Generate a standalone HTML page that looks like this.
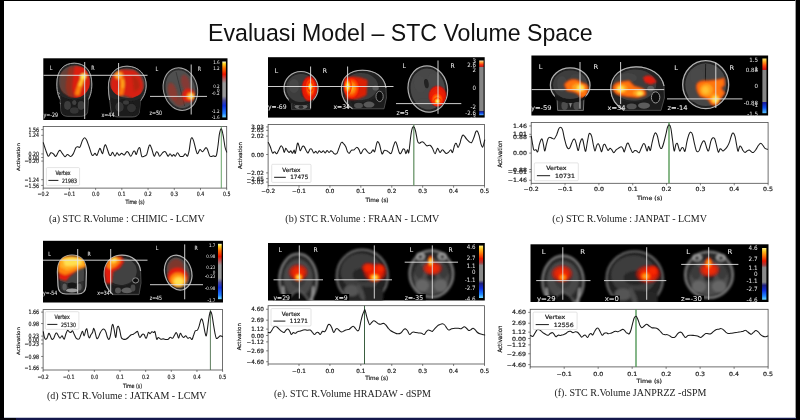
<!DOCTYPE html>
<html><head><meta charset="utf-8"><title>Evaluasi Model – STC Volume Space</title>
<style>html,body{margin:0;padding:0;background:#fff;overflow:hidden}body{width:800px;height:420px;position:relative}svg{position:absolute;left:0;top:0;display:block}</style>
</head><body>
<svg width="800" height="420" viewBox="0 0 800 420" font-family="'DejaVu Sans','Liberation Sans',sans-serif">
<defs>
<filter id="f03" x="-5%" y="-5%" width="110%" height="110%"><feGaussianBlur stdDeviation="0.35"/></filter>
<filter id="f05" x="-10%" y="-10%" width="120%" height="120%"><feGaussianBlur stdDeviation="0.55"/></filter>
<filter id="f1" x="-20%" y="-20%" width="140%" height="140%"><feGaussianBlur stdDeviation="1"/></filter>
<filter id="f15" x="-30%" y="-30%" width="160%" height="160%"><feGaussianBlur stdDeviation="1.5"/></filter>
<filter id="f2" x="-40%" y="-40%" width="180%" height="180%"><feGaussianBlur stdDeviation="2.2"/></filter>
<radialGradient id="hot"><stop offset="0" stop-color="#ffff9a"/><stop offset="0.28" stop-color="#ffd628"/><stop offset="0.52" stop-color="#ff8208"/><stop offset="0.78" stop-color="#ff2a00" stop-opacity="0.92"/><stop offset="1" stop-color="#ee0000" stop-opacity="0"/></radialGradient>
<radialGradient id="org"><stop offset="0" stop-color="#ffc020"/><stop offset="0.45" stop-color="#ff7a08"/><stop offset="0.8" stop-color="#ff3000" stop-opacity="0.85"/><stop offset="1" stop-color="#ee0000" stop-opacity="0"/></radialGradient>
<radialGradient id="red"><stop offset="0" stop-color="#ff2a00" stop-opacity="0.97"/><stop offset="0.78" stop-color="#ee1600" stop-opacity="0.92"/><stop offset="1" stop-color="#cc0000" stop-opacity="0"/></radialGradient>
<radialGradient id="sred"><stop offset="0" stop-color="#ff3000" stop-opacity="0.97"/><stop offset="0.55" stop-color="#f42000" stop-opacity="0.9"/><stop offset="0.85" stop-color="#e01400" stop-opacity="0.5"/><stop offset="1" stop-color="#cc0000" stop-opacity="0"/></radialGradient>
<radialGradient id="dred"><stop offset="0" stop-color="#c82a18" stop-opacity="0.75"/><stop offset="0.7" stop-color="#b02414" stop-opacity="0.55"/><stop offset="1" stop-color="#901810" stop-opacity="0"/></radialGradient>
<radialGradient id="tmpl"><stop offset="0" stop-color="#5e5e5e"/><stop offset="0.6" stop-color="#4a4a4a"/><stop offset="0.85" stop-color="#6e6e6e"/><stop offset="1" stop-color="#2a2a2a" stop-opacity="0"/></radialGradient>
<linearGradient id="cbA" x1="0" y1="0" x2="0" y2="1"><stop offset="0" stop-color="#fffbd0"/><stop offset="0.04" stop-color="#ffd820"/><stop offset="0.12" stop-color="#ff7000"/><stop offset="0.23" stop-color="#ee1400"/><stop offset="0.31" stop-color="#b85a5a"/><stop offset="0.39" stop-color="#9a9a9a"/><stop offset="0.62" stop-color="#9a9a9a"/><stop offset="0.70" stop-color="#4a4a9c"/><stop offset="0.79" stop-color="#1030e0"/><stop offset="0.93" stop-color="#2080ff"/><stop offset="1" stop-color="#70d8ff"/></linearGradient>
<linearGradient id="cbB" x1="0" y1="0" x2="0" y2="1"><stop offset="0" stop-color="#ffe6b0"/><stop offset="0.035" stop-color="#ff9a30"/><stop offset="0.075" stop-color="#ff3410"/><stop offset="0.11" stop-color="#c42020"/><stop offset="0.125" stop-color="#868686"/><stop offset="0.915" stop-color="#868686"/><stop offset="0.93" stop-color="#202088"/><stop offset="0.965" stop-color="#1048e8"/><stop offset="1" stop-color="#58b8ff"/></linearGradient>
<linearGradient id="cbC" x1="0" y1="0" x2="0" y2="1"><stop offset="0" stop-color="#ffe870"/><stop offset="0.06" stop-color="#ffa820"/><stop offset="0.13" stop-color="#ff4810"/><stop offset="0.2" stop-color="#d01414"/><stop offset="0.215" stop-color="#868686"/><stop offset="0.79" stop-color="#868686"/><stop offset="0.805" stop-color="#1818a0"/><stop offset="0.9" stop-color="#1050f0"/><stop offset="1" stop-color="#58c4ff"/></linearGradient>
<linearGradient id="cbE" x1="0" y1="0" x2="0" y2="1"><stop offset="0" stop-color="#fff090"/><stop offset="0.06" stop-color="#ffc820"/><stop offset="0.15" stop-color="#ff7808"/><stop offset="0.25" stop-color="#ee1800"/><stop offset="0.33" stop-color="#a44040"/><stop offset="0.38" stop-color="#8a8a8a"/><stop offset="0.66" stop-color="#8a8a8a"/><stop offset="0.72" stop-color="#20207a"/><stop offset="0.82" stop-color="#1030e0"/><stop offset="0.93" stop-color="#2088ff"/><stop offset="1" stop-color="#70dcff"/></linearGradient>
</defs>
<rect x="0" y="0" width="800" height="420" fill="#fff"/>
<text x="208.1" y="41.0" font-family="'Liberation Sans',Arial,sans-serif" font-size="23.15" fill="#111">Evaluasi Model – STC Volume Space</text>
<g>
<rect x="43.3" y="58.3" width="184.2" height="61.7" fill="#000"/>
<clipPath id="cp1"><rect x="43.3" y="58.3" width="184.2" height="61.7"/></clipPath>
<g clip-path="url(#cp1)">
<g filter="url(#f05)">
<path d="M56.8,84 C56.8,70 64,63.2 74.2,63.2 C84.6,63.2 91.8,70 91.8,84 C91.8,92 90,96.5 88.4,99.5 L87.6,111.5 Q86.8,116.4 80.5,116.4 L68,116.4 Q61.8,116.4 61,111.5 L60.2,99.5 C58.6,96.5 56.8,92 56.8,84 Z" fill="#262626" stroke="#5c5c5c" stroke-width="0.80"/>
<path d="M60.2,99.5 C58.6,96.5 56.8,92 56.8,84 C56.8,70 64,63.2 74.2,63.2 C84.6,63.2 91.8,70 91.8,84 C91.8,92 90,96.5 88.4,99.5" fill="none" stroke="#a6a6a6" stroke-width="0.95"/>
<ellipse cx="74.3" cy="81.2" rx="15.3" ry="15.8" fill="#474747" />
<path d="M60.5,96 Q74.3,103.5 88,96 L87.4,111 Q86.6,115.4 80.5,115.4 L68,115.4 Q62,115.4 61.4,111 Z" fill="#1a1a1a"/>
<ellipse cx="67.5" cy="105.5" rx="3.4" ry="4.4" fill="#3c3c3c" />
<ellipse cx="81.0" cy="105.5" rx="3.4" ry="4.4" fill="#3c3c3c" />
<ellipse cx="74.3" cy="110.5" rx="4.4" ry="3.2" fill="#343434" />
<ellipse cx="74.3" cy="102.5" rx="2.2" ry="2.6" fill="#404040" />
<path d="M58.2,92.5 l1.8,1.2 M58.6,96 l1.6,1 M59.6,103 l1.2,0.8" fill="none" stroke="#9a9a9a" stroke-width="0.70"/>
<path d="M108.4,88 C107.8,74 116,66.2 127,66.2 C139,66.2 146.6,75 146.2,86 C145.8,94 142.4,98 140.4,101 L139.4,112 Q138.4,117 132,117 L118,117 Q111.4,117 110.8,110 L109.6,100 C108.8,96 108.5,92 108.4,88 Z" fill="#262626" stroke="#5c5c5c" stroke-width="0.80"/>
<path d="M109.6,100 C108.8,96 108.5,92 108.4,88 C107.8,74 116,66.2 127,66.2 C139,66.2 146.6,75 146.2,86 C145.8,94 142.4,98 140.4,101" fill="none" stroke="#a6a6a6" stroke-width="0.95"/>
<ellipse cx="127.4" cy="83.2" rx="17.2" ry="14.8" fill="#474747" transform="rotate(8.0 127.4 83.2)" />
<path d="M110.4,97 Q116,101 124,99 Q132,104 140.6,98 L139.4,111.5 Q138.4,116 132,116 L118,116 Q112.2,116 111.6,110 Z" fill="#1a1a1a"/>
<ellipse cx="119.5" cy="107.0" rx="4.2" ry="5.0" fill="#363636" />
<ellipse cx="131.5" cy="108.0" rx="4.6" ry="4.2" fill="#303030" />
<ellipse cx="126.0" cy="102.5" rx="3.0" ry="2.2" fill="#3a3a3a" />
<ellipse cx="180.4" cy="89.1" rx="17.0" ry="21.6" fill="#2a2a2a" stroke="#a6a6a6" stroke-width="1.00" transform="rotate(-14.0 180.4 89.1)" />
<ellipse cx="180.4" cy="89.1" rx="14.6" ry="19.2" fill="#505050" transform="rotate(-14.0 180.4 89.1)" />
<path d="M176,72 L184.6,106" fill="none" stroke="#343434" stroke-width="0.90"/>
</g>
<clipPath id="cp2"><ellipse cx="74.3" cy="81.4" rx="15.9" ry="16.6" fill="#fff" /></clipPath>
<g clip-path="url(#cp2)" filter="url(#f1)">
<path d="M60,72 L72,66 L72,98 L60,94 Z" fill="#a03424" opacity="0.34"/>
<path d="M69,67 L78,66 L78,98.5 L70,98 Q64.5,92 66,82 Q67.4,74 69,67 Z" fill="#b82414" opacity="0.62"/>
<path d="M74.6,66 L86,66.5 Q91,75 90.4,87 L86.5,97.5 L75,98.5 Q71.4,92 72.6,82 Q73.4,74 74.6,66 Z" fill="#e21c08" opacity="0.95"/>
<path d="M84.2,75.6 Q79.5,84 77,95" fill="none" stroke="#ff8a10" stroke-width="4.40" opacity="0.95"/>
<path d="M84.6,75 Q81.5,80 79.8,86" fill="none" stroke="#ffc830" stroke-width="3.00"/>
<ellipse cx="83.2" cy="76.2" rx="3.0" ry="2.4" fill="#ffee60" transform="rotate(-35.0 83.2 76.2)" />
</g>
<clipPath id="cp3"><ellipse cx="127.4" cy="83.2" rx="17.6" ry="15.2" fill="#fff" transform="rotate(8.0 127.4 83.2)" /></clipPath>
<g clip-path="url(#cp3)" filter="url(#f1)">
<path d="M110.5,82 Q112,72 121,69.5 L134,70 Q143.5,76 143.5,87 L141,96 L133,98.5 L124,95.5 L114,98 L110.5,92 Z" fill="#e21c08" opacity="0.93"/>
<path d="M132,74 Q140,78 140,88 L134,92 Z" fill="#8a2a1c" opacity="0.45"/>
<path d="M121.5,78 Q123.5,86 120.5,95" fill="none" stroke="#ff7a10" stroke-width="4.60" opacity="0.95"/>
<path d="M122.6,79.5 Q123.6,84 122.6,88" fill="none" stroke="#ffb020" stroke-width="2.40" opacity="0.90"/>
<ellipse cx="118.8" cy="75.4" rx="2.8" ry="2.6" fill="#ffe860" />
<ellipse cx="118.8" cy="75.4" rx="4.6" ry="4.2" fill="#ff9a18" opacity="0.70" />
</g>
<clipPath id="cp4"><ellipse cx="180.4" cy="89.1" rx="15.4" ry="20.0" fill="#fff" transform="rotate(-14.0 180.4 89.1)" /></clipPath>
<g clip-path="url(#cp4)" filter="url(#f1)">
<ellipse cx="172.5" cy="92.0" rx="4.4" ry="9.5" fill="#b02c1c" transform="rotate(-14.0 172.5 92.0)" opacity="0.60" />
<ellipse cx="185.5" cy="83.0" rx="4.2" ry="8.5" fill="#b02c1c" transform="rotate(-14.0 185.5 83.0)" opacity="0.55" />
<ellipse cx="180.0" cy="101.0" rx="6.0" ry="5.0" fill="#a82a1a" opacity="0.50" />
<ellipse cx="188.6" cy="95.4" rx="6.6" ry="6.8" fill="#e41c08" opacity="0.95" />
<ellipse cx="190.6" cy="96.2" rx="3.6" ry="3.4" fill="#ff9a18" />
<ellipse cx="191.2" cy="96.3" rx="2.2" ry="2.1" fill="#ffee60" />
</g>
<line x1="43.3" y1="75.3" x2="147.5" y2="75.3" stroke="#e4e4e4" stroke-width="0.90"/>
<line x1="84.7" y1="62.0" x2="84.7" y2="119.0" stroke="#e4e4e4" stroke-width="0.90"/>
<line x1="118.6" y1="63.0" x2="118.6" y2="116.0" stroke="#e4e4e4" stroke-width="0.90"/>
<line x1="150.0" y1="96.4" x2="207.0" y2="96.4" stroke="#e4e4e4" stroke-width="0.90"/>
<line x1="191.2" y1="64.5" x2="191.2" y2="114.5" stroke="#e4e4e4" stroke-width="0.90"/>
<text transform="translate(49.80,70.00) scale(0.800,1)" font-size="6.00" text-anchor="start" fill="#ececec" stroke="#ececec" stroke-width="0.05" font-weight="normal" >L</text>
<text transform="translate(91.30,70.00) scale(0.800,1)" font-size="6.00" text-anchor="start" fill="#ececec" stroke="#ececec" stroke-width="0.05" font-weight="normal" >R</text>
<text transform="translate(155.50,70.70) scale(0.800,1)" font-size="6.00" text-anchor="start" fill="#ececec" stroke="#ececec" stroke-width="0.05" font-weight="normal" >L</text>
<text transform="translate(197.80,70.70) scale(0.800,1)" font-size="6.00" text-anchor="start" fill="#ececec" stroke="#ececec" stroke-width="0.05" font-weight="normal" >R</text>
<text transform="translate(43.40,116.80) scale(0.800,1)" font-size="6.00" text-anchor="start" fill="#ececec" stroke="#ececec" stroke-width="0.05" font-weight="normal" >y=-29</text>
<text transform="translate(101.50,116.80) scale(0.800,1)" font-size="6.00" text-anchor="start" fill="#ececec" stroke="#ececec" stroke-width="0.05" font-weight="normal" >x=44</text>
<text transform="translate(149.50,115.30) scale(0.800,1)" font-size="6.00" text-anchor="start" fill="#ececec" stroke="#ececec" stroke-width="0.05" font-weight="normal" >z=50</text>
<rect x="222.3" y="61.5" width="3.6" height="55.9" fill="url(#cbA)"/>
<text transform="translate(219.60,64.23) scale(0.850,1)" font-size="4.80" text-anchor="end" fill="#dcdcdc" stroke="#dcdcdc" stroke-width="0.05" font-weight="normal" >1.6</text>
<text transform="translate(219.60,70.03) scale(0.850,1)" font-size="4.80" text-anchor="end" fill="#dcdcdc" stroke="#dcdcdc" stroke-width="0.05" font-weight="normal" >1.2</text>
<text transform="translate(219.60,88.23) scale(0.850,1)" font-size="4.80" text-anchor="end" fill="#dcdcdc" stroke="#dcdcdc" stroke-width="0.05" font-weight="normal" >0.2</text>
<text transform="translate(219.60,91.93) scale(0.850,1)" font-size="4.80" text-anchor="end" fill="#dcdcdc" stroke="#dcdcdc" stroke-width="0.05" font-weight="normal" >0</text>
<text transform="translate(219.60,95.43) scale(0.850,1)" font-size="4.80" text-anchor="end" fill="#dcdcdc" stroke="#dcdcdc" stroke-width="0.05" font-weight="normal" >-0.2</text>
<text transform="translate(219.60,112.93) scale(0.850,1)" font-size="4.80" text-anchor="end" fill="#dcdcdc" stroke="#dcdcdc" stroke-width="0.05" font-weight="normal" >-1.2</text>
<text transform="translate(219.60,119.33) scale(0.850,1)" font-size="4.80" text-anchor="end" fill="#dcdcdc" stroke="#dcdcdc" stroke-width="0.05" font-weight="normal" >-1.6</text>
</g>
<rect x="43.2" y="126.4" width="183.5" height="61.7" fill="#fff" stroke="#4c4c4c" stroke-width="0.8"/>
<line x1="221.3" y1="126.4" x2="221.3" y2="188.1" stroke="#62a062" stroke-width="0.95"/>
<line x1="41.2" y1="129.58" x2="43.2" y2="129.58" stroke="#333" stroke-width="0.6"/>
<text transform="translate(39.00,131.70) scale(0.800,1)" font-size="5.90" text-anchor="end" fill="#222" stroke="#222" stroke-width="0.2" font-weight="normal" >1.56</text>
<line x1="41.2" y1="135.30" x2="43.2" y2="135.30" stroke="#333" stroke-width="0.6"/>
<text transform="translate(39.00,137.43) scale(0.800,1)" font-size="5.90" text-anchor="end" fill="#222" stroke="#222" stroke-width="0.2" font-weight="normal" >1.24</text>
<line x1="41.2" y1="153.92" x2="43.2" y2="153.92" stroke="#333" stroke-width="0.6"/>
<text transform="translate(39.00,156.04) scale(0.800,1)" font-size="5.90" text-anchor="end" fill="#222" stroke="#222" stroke-width="0.2" font-weight="normal" >0.20</text>
<line x1="41.2" y1="157.50" x2="43.2" y2="157.50" stroke="#333" stroke-width="0.6"/>
<text transform="translate(39.00,159.62) scale(0.800,1)" font-size="5.90" text-anchor="end" fill="#222" stroke="#222" stroke-width="0.2" font-weight="normal" >0.00</text>
<line x1="41.2" y1="161.08" x2="43.2" y2="161.08" stroke="#333" stroke-width="0.6"/>
<text transform="translate(39.00,163.20) scale(0.800,1)" font-size="5.90" text-anchor="end" fill="#222" stroke="#222" stroke-width="0.2" font-weight="normal" >−0.20</text>
<line x1="41.2" y1="179.70" x2="43.2" y2="179.70" stroke="#333" stroke-width="0.6"/>
<text transform="translate(39.00,181.82) scale(0.800,1)" font-size="5.90" text-anchor="end" fill="#222" stroke="#222" stroke-width="0.2" font-weight="normal" >−1.24</text>
<line x1="41.2" y1="185.42" x2="43.2" y2="185.42" stroke="#333" stroke-width="0.6"/>
<text transform="translate(39.00,187.55) scale(0.800,1)" font-size="5.90" text-anchor="end" fill="#222" stroke="#222" stroke-width="0.2" font-weight="normal" >−1.56</text>
<line x1="43.20" y1="188.1" x2="43.20" y2="190.1" stroke="#333" stroke-width="0.6"/>
<text transform="translate(43.20,196.30) scale(0.800,1)" font-size="5.90" text-anchor="middle" fill="#222" stroke="#222" stroke-width="0.2" font-weight="normal" >−0.2</text>
<line x1="69.41" y1="188.1" x2="69.41" y2="190.1" stroke="#333" stroke-width="0.6"/>
<text transform="translate(69.41,196.30) scale(0.800,1)" font-size="5.90" text-anchor="middle" fill="#222" stroke="#222" stroke-width="0.2" font-weight="normal" >−0.1</text>
<line x1="95.63" y1="188.1" x2="95.63" y2="190.1" stroke="#333" stroke-width="0.6"/>
<text transform="translate(95.63,196.30) scale(0.800,1)" font-size="5.90" text-anchor="middle" fill="#222" stroke="#222" stroke-width="0.2" font-weight="normal" >0.0</text>
<line x1="121.84" y1="188.1" x2="121.84" y2="190.1" stroke="#333" stroke-width="0.6"/>
<text transform="translate(121.84,196.30) scale(0.800,1)" font-size="5.90" text-anchor="middle" fill="#222" stroke="#222" stroke-width="0.2" font-weight="normal" >0.1</text>
<line x1="148.06" y1="188.1" x2="148.06" y2="190.1" stroke="#333" stroke-width="0.6"/>
<text transform="translate(148.06,196.30) scale(0.800,1)" font-size="5.90" text-anchor="middle" fill="#222" stroke="#222" stroke-width="0.2" font-weight="normal" >0.2</text>
<line x1="174.27" y1="188.1" x2="174.27" y2="190.1" stroke="#333" stroke-width="0.6"/>
<text transform="translate(174.27,196.30) scale(0.800,1)" font-size="5.90" text-anchor="middle" fill="#222" stroke="#222" stroke-width="0.2" font-weight="normal" >0.3</text>
<line x1="200.49" y1="188.1" x2="200.49" y2="190.1" stroke="#333" stroke-width="0.6"/>
<text transform="translate(200.49,196.30) scale(0.800,1)" font-size="5.90" text-anchor="middle" fill="#222" stroke="#222" stroke-width="0.2" font-weight="normal" >0.4</text>
<line x1="226.70" y1="188.1" x2="226.70" y2="190.1" stroke="#333" stroke-width="0.6"/>
<text transform="translate(226.70,196.30) scale(0.800,1)" font-size="5.90" text-anchor="middle" fill="#222" stroke="#222" stroke-width="0.2" font-weight="normal" >0.5</text>
<text transform="translate(135.00,203.60) scale(0.800,1)" font-size="5.90" text-anchor="middle" fill="#222" stroke="#222" stroke-width="0.2" font-weight="normal" >Time (s)</text>
<text transform="translate(19.5,157.0) rotate(-90) scale(1,0.800)" font-size="5.61" text-anchor="middle" fill="#222" stroke="#222" stroke-width="0.2">Activation</text>
<path d="M43.3,142.8C43.8,144.1 45.0,148.1 45.8,150.3C46.7,152.6 47.5,155.8 48.3,156.2C49.2,156.6 50.0,153.2 50.8,152.8C51.7,152.4 52.5,153.1 53.3,153.7C54.2,154.3 55.0,156.8 55.8,156.5C56.7,156.2 57.6,153.0 58.3,152.0C59.0,151.0 59.3,150.1 60.0,150.3C60.7,150.6 61.7,152.6 62.5,153.7C63.3,154.7 64.2,156.5 65.0,156.7C65.8,156.8 66.5,154.5 67.5,154.5C68.5,154.5 69.9,156.6 70.8,156.5C71.8,156.4 72.5,155.1 73.3,153.7C74.2,152.2 75.1,149.0 75.8,147.8C76.5,146.7 76.8,146.8 77.5,146.7C78.2,146.5 79.2,148.1 80.0,147.0C80.8,145.9 81.7,141.9 82.5,140.3C83.3,138.8 84.0,137.8 84.7,137.8C85.4,137.8 85.9,138.8 86.7,140.3C87.4,141.9 88.3,144.6 89.2,147.0C90.0,149.4 91.0,153.1 91.7,154.5C92.4,155.9 92.8,155.5 93.3,155.3C93.9,155.1 94.4,153.3 95.0,153.3C95.6,153.3 96.3,156.0 97.0,155.3C97.7,154.7 98.6,150.6 99.2,149.5C99.7,148.4 99.8,148.0 100.3,148.7C100.9,149.4 101.9,153.9 102.5,153.7C103.1,153.4 103.7,148.5 104.2,147.0C104.7,145.5 105.0,144.6 105.5,144.8C106.0,145.1 106.6,147.1 107.2,148.7C107.8,150.3 108.6,153.4 109.2,154.5C109.8,155.6 110.3,155.7 110.8,155.3C111.4,155.0 111.8,152.2 112.5,152.3C113.2,152.5 114.2,156.1 115.0,156.2C115.8,156.2 116.3,153.0 117.0,152.8C117.7,152.7 118.4,155.2 119.2,155.3C119.9,155.4 120.8,153.4 121.7,153.3C122.5,153.3 123.3,155.3 124.2,155.0C125.0,154.7 126.0,152.1 126.7,151.7C127.4,151.2 127.6,151.6 128.3,152.3C129.0,153.1 130.0,156.3 130.8,156.2C131.7,156.1 132.7,152.5 133.3,151.7C134.0,150.8 134.2,150.7 134.7,151.2C135.2,151.6 135.7,154.9 136.3,154.5C136.9,154.1 137.7,149.7 138.3,148.7C138.9,147.6 139.4,147.1 140.0,148.3C140.6,149.6 141.0,154.9 141.7,156.2C142.4,157.5 143.3,156.4 144.2,156.2C145.0,155.9 145.9,156.0 146.7,154.5C147.4,153.0 148.1,148.6 148.7,147.0C149.2,145.4 149.5,144.7 150.0,145.0C150.5,145.3 151.0,146.8 151.7,148.7C152.4,150.5 153.4,155.6 154.2,156.2C154.9,156.7 155.7,152.6 156.3,152.0C157.0,151.4 157.4,152.1 158.0,152.8C158.6,153.5 158.9,156.2 159.7,156.2C160.4,156.2 161.6,153.6 162.5,152.8C163.4,152.1 164.4,151.1 165.3,151.7C166.2,152.2 167.2,155.8 168.0,156.2C168.8,156.5 169.3,153.7 170.0,153.7C170.7,153.7 171.4,156.0 172.0,156.2C172.6,156.3 173.1,154.5 173.7,154.5C174.2,154.5 174.7,156.4 175.3,156.2C176.0,155.9 176.7,152.8 177.5,152.8C178.3,152.8 179.0,155.6 180.0,156.2C181.0,156.7 182.4,156.6 183.3,156.2C184.2,155.8 184.6,153.7 185.3,153.7C186.0,153.7 186.9,156.7 187.5,156.2C188.1,155.6 188.6,153.1 189.2,150.3C189.7,147.6 190.3,141.6 190.8,139.5C191.3,137.4 191.7,137.6 192.2,137.8C192.6,138.1 193.1,139.2 193.7,141.2C194.3,143.1 195.2,147.4 195.8,149.5C196.5,151.6 196.8,153.7 197.5,153.7C198.2,153.7 199.2,149.8 200.0,149.5C200.8,149.2 201.5,151.9 202.5,151.7C203.5,151.4 205.0,148.2 205.8,147.8C206.7,147.5 206.8,148.1 207.5,149.5C208.2,150.9 209.0,155.1 210.0,156.2C211.0,157.2 212.3,155.9 213.3,155.8C214.4,155.8 215.4,157.3 216.2,155.8C216.9,154.4 217.3,150.7 217.8,147.0C218.4,143.3 218.9,136.7 219.5,133.7C220.1,130.6 220.6,128.7 221.2,128.7C221.7,128.7 222.2,130.6 222.8,133.7C223.5,136.7 224.4,143.9 225.0,147.0C225.6,150.1 226.4,151.2 226.7,152.0" fill="none" stroke="#1a1a1a" stroke-width="1.05" stroke-linejoin="round" stroke-linecap="round"/>
<rect x="46.4" y="167.6" width="33.2" height="17.8" rx="1" fill="#fff" fill-opacity="0.8" stroke="#d2d2d2" stroke-width="0.6"/>
<text transform="translate(63.00,174.72) scale(0.800,1)" font-size="5.90" text-anchor="middle" fill="#222" stroke="#222" stroke-width="0.2" font-weight="normal" >Vertex</text>
<line x1="48.4" y1="180.4" x2="58.4" y2="180.4" stroke="#1a1a1a" stroke-width="1"/>
<text transform="translate(62.00,182.54) scale(0.800,1)" font-size="5.90" text-anchor="start" fill="#222" stroke="#222" stroke-width="0.2" font-weight="normal" >21983</text>
<text x="49.0" y="221.5" font-family="'Liberation Serif','Times New Roman',serif" font-size="10" fill="#1a1a1a">(a) STC R.Volume : CHIMIC - LCMV</text>
</g>
<g>
<rect x="268.0" y="57.2" width="216.7" height="60.4" fill="#000"/>
<clipPath id="cp5"><rect x="268.0" y="57.2" width="216.7" height="60.4"/></clipPath>
<g clip-path="url(#cp5)">
<g filter="url(#f05)">
<path d="M291,101 L291.6,109.6 L310.4,109.6 L311,101 Z" fill="#262626" stroke="#5c5c5c" stroke-width="0.60"/>
<ellipse cx="301.0" cy="106.6" rx="6.4" ry="2.6" fill="#6a6a6a" />
<ellipse cx="301.0" cy="107.2" rx="2.4" ry="1.6" fill="#2a2a2a" />
<ellipse cx="301.0" cy="88.3" rx="17.0" ry="16.8" fill="#222" stroke="#b0b0b0" stroke-width="1.20" />
<ellipse cx="301.0" cy="88.0" rx="14.6" ry="14.0" fill="#3e3e3e" />
<ellipse cx="294.0" cy="86.0" rx="5.0" ry="7.0" fill="#484848" opacity="0.80" />
<ellipse cx="305.0" cy="93.0" rx="5.0" ry="5.0" fill="#343434" opacity="0.80" />
<path d="M288.5,98.5 Q301,106.5 313.5,98.5 L312.6,102.6 Q301,109 289.4,102.6 Z" fill="#1c1c1c"/>
<path d="M341.4,90 C340.8,77.4 350,70.2 362.4,70.2 C375.4,70.2 384.6,77 386,88 L386.4,98 L384,108.8 L352.5,108.8 C346,104.6 341.8,98.4 341.4,90 Z" fill="#222" stroke="#555" stroke-width="0.80"/>
<path d="M352.5,108.8 C346,104.6 341.8,98.4 341.4,90 C340.8,77.4 350,70.2 362.4,70.2 C375.4,70.2 384.6,77 386,88" fill="none" stroke="#b0b0b0" stroke-width="1.10"/>
<ellipse cx="360.5" cy="86.6" rx="17.6" ry="13.6" fill="#3c3c3c" transform="rotate(-4.0 360.5 86.6)" />
<path d="M351,101 Q362,104.5 374,98.5 L378,94 L385,92 L385.4,98 L383.2,107.8 L353,107.8 Z" fill="#1e1e1e"/>
<ellipse cx="379.6" cy="96.4" rx="3.6" ry="5.2" fill="#0c0c0c" stroke="#8c8c8c" stroke-width="0.90" />
<ellipse cx="369.0" cy="104.6" rx="5.4" ry="3.0" fill="#585858" />
<ellipse cx="358.5" cy="105.4" rx="4.4" ry="2.6" fill="#505050" />
<ellipse cx="375.6" cy="88.0" rx="3.2" ry="2.6" fill="#5a5a5a" />
<ellipse cx="427.8" cy="89.0" rx="19.7" ry="23.2" fill="#222" stroke="#b0b0b0" stroke-width="1.20" transform="rotate(-10.0 427.8 89.0)" />
<ellipse cx="427.8" cy="89.0" rx="17.2" ry="20.6" fill="#464646" transform="rotate(-10.0 427.8 89.0)" />
<ellipse cx="420.0" cy="84.0" rx="6.0" ry="9.0" fill="#484848" transform="rotate(-10.0 420.0 84.0)" opacity="0.80" />
<ellipse cx="433.0" cy="80.0" rx="5.0" ry="7.0" fill="#484848" transform="rotate(-10.0 433.0 80.0)" opacity="0.80" />
<ellipse cx="424.0" cy="103.0" rx="7.0" ry="5.0" fill="#464646" opacity="0.70" />
<ellipse cx="426.4" cy="83.6" rx="2.2" ry="4.6" fill="#202020" transform="rotate(-10.0 426.4 83.6)" />
</g>
<clipPath id="cp6"><ellipse cx="301.0" cy="88.3" rx="16.5" ry="16.3" fill="#fff" /></clipPath>
<g clip-path="url(#cp6)" filter="url(#f05)">
<ellipse cx="309.6" cy="88.8" rx="8.8" ry="14.0" fill="url(#red)" />
<ellipse cx="310.3" cy="87.6" rx="5.4" ry="10.4" fill="url(#org)" />
<ellipse cx="310.4" cy="86.6" rx="3.6" ry="6.0" fill="url(#hot)" />
</g>
<clipPath id="cp7"><path d="M341.4,90 C340.8,77.4 350,70.2 362.4,70.2 C375.4,70.2 384.6,77 386,88 L386.4,98 L384,108.8 L352.5,108.8 C346,104.6 341.8,98.4 341.4,90 Z" fill="#fff"/></clipPath>
<g clip-path="url(#cp7)" filter="url(#f05)">
<path d="M344,78 Q356,74 367.5,80 L366.5,95 Q356,101.5 346,98.5 Z" fill="#e81a06" opacity="0.93" filter="url(#f1)"/>
<ellipse cx="351.5" cy="88.0" rx="8.6" ry="11.4" fill="url(#org)" />
<ellipse cx="347.8" cy="86.2" rx="4.4" ry="9.0" fill="url(#hot)" />
</g>
<clipPath id="cp8"><ellipse cx="427.8" cy="89.0" rx="19.2" ry="22.7" fill="#fff" transform="rotate(-10.0 427.8 89.0)" /></clipPath>
<g clip-path="url(#cp8)" filter="url(#f05)">
<ellipse cx="437.6" cy="96.0" rx="10.0" ry="11.4" fill="url(#red)" />
<ellipse cx="437.2" cy="99.6" rx="6.6" ry="7.4" fill="url(#org)" />
<ellipse cx="437.4" cy="101.2" rx="4.4" ry="4.4" fill="url(#hot)" />
</g>
<line x1="268.0" y1="86.5" x2="393.5" y2="86.5" stroke="#e4e4e4" stroke-width="0.90"/>
<line x1="310.6" y1="66.5" x2="310.6" y2="108.5" stroke="#e4e4e4" stroke-width="0.90"/>
<line x1="347.6" y1="66.5" x2="347.6" y2="108.5" stroke="#e4e4e4" stroke-width="0.90"/>
<line x1="396.0" y1="103.6" x2="461.3" y2="103.6" stroke="#e4e4e4" stroke-width="0.90"/>
<line x1="438.0" y1="60.5" x2="438.0" y2="113.8" stroke="#e4e4e4" stroke-width="0.90"/>
<text transform="translate(274.80,73.40) scale(0.950,1)" font-size="6.40" text-anchor="start" fill="#ececec" stroke="#ececec" stroke-width="0.05" font-weight="normal" >L</text>
<text transform="translate(322.80,73.40) scale(0.950,1)" font-size="6.40" text-anchor="start" fill="#ececec" stroke="#ececec" stroke-width="0.05" font-weight="normal" >R</text>
<text transform="translate(402.40,68.20) scale(0.950,1)" font-size="6.40" text-anchor="start" fill="#ececec" stroke="#ececec" stroke-width="0.05" font-weight="normal" >L</text>
<text transform="translate(450.60,68.20) scale(0.950,1)" font-size="6.40" text-anchor="start" fill="#ececec" stroke="#ececec" stroke-width="0.05" font-weight="normal" >R</text>
<text transform="translate(268.00,109.40) scale(0.950,1)" font-size="6.40" text-anchor="start" fill="#ececec" stroke="#ececec" stroke-width="0.05" font-weight="normal" >y=-69</text>
<text transform="translate(333.50,109.40) scale(0.950,1)" font-size="6.40" text-anchor="start" fill="#ececec" stroke="#ececec" stroke-width="0.05" font-weight="normal" >x=34</text>
<text transform="translate(396.50,115.40) scale(0.950,1)" font-size="6.40" text-anchor="start" fill="#ececec" stroke="#ececec" stroke-width="0.05" font-weight="normal" >z=5</text>
<rect x="479.2" y="60.5" width="4.4" height="54.7" fill="url(#cbB)"/>
<text transform="translate(476.00,62.76) scale(0.920,1)" font-size="6.00" text-anchor="end" fill="#dcdcdc" stroke="#dcdcdc" stroke-width="0.05" font-weight="normal" >3</text>
<text transform="translate(476.00,67.16) scale(0.920,1)" font-size="6.00" text-anchor="end" fill="#dcdcdc" stroke="#dcdcdc" stroke-width="0.05" font-weight="normal" >2.6</text>
<text transform="translate(476.00,72.36) scale(0.920,1)" font-size="6.00" text-anchor="end" fill="#dcdcdc" stroke="#dcdcdc" stroke-width="0.05" font-weight="normal" >2</text>
<text transform="translate(476.00,90.36) scale(0.920,1)" font-size="6.00" text-anchor="end" fill="#dcdcdc" stroke="#dcdcdc" stroke-width="0.05" font-weight="normal" >0</text>
<text transform="translate(476.00,109.16) scale(0.920,1)" font-size="6.00" text-anchor="end" fill="#dcdcdc" stroke="#dcdcdc" stroke-width="0.05" font-weight="normal" >-2</text>
<text transform="translate(476.00,114.86) scale(0.920,1)" font-size="6.00" text-anchor="end" fill="#dcdcdc" stroke="#dcdcdc" stroke-width="0.05" font-weight="normal" >-2.6</text>
<text transform="translate(476.00,119.16) scale(0.920,1)" font-size="6.00" text-anchor="end" fill="#dcdcdc" stroke="#dcdcdc" stroke-width="0.05" font-weight="normal" >-3</text>
</g>
<rect x="268.1" y="124.5" width="216.4" height="61.2" fill="#fff" stroke="#4c4c4c" stroke-width="0.8"/>
<line x1="413.8" y1="124.5" x2="413.8" y2="185.7" stroke="#6a966a" stroke-width="1.30"/>
<line x1="266.1" y1="126.93" x2="268.1" y2="126.93" stroke="#333" stroke-width="0.6"/>
<text transform="translate(263.90,128.98) scale(1.000,1)" font-size="5.70" text-anchor="end" fill="#222" stroke="#222" stroke-width="0.2" font-weight="normal" >3.03</text>
<line x1="266.1" y1="130.38" x2="268.1" y2="130.38" stroke="#333" stroke-width="0.6"/>
<text transform="translate(263.90,132.44) scale(1.000,1)" font-size="5.70" text-anchor="end" fill="#222" stroke="#222" stroke-width="0.2" font-weight="normal" >2.65</text>
<line x1="266.1" y1="136.12" x2="268.1" y2="136.12" stroke="#333" stroke-width="0.6"/>
<text transform="translate(263.90,138.17) scale(1.000,1)" font-size="5.70" text-anchor="end" fill="#222" stroke="#222" stroke-width="0.2" font-weight="normal" >2.02</text>
<line x1="266.1" y1="154.50" x2="268.1" y2="154.50" stroke="#333" stroke-width="0.6"/>
<text transform="translate(263.90,156.55) scale(1.000,1)" font-size="5.70" text-anchor="end" fill="#222" stroke="#222" stroke-width="0.2" font-weight="normal" >0.00</text>
<line x1="266.1" y1="172.88" x2="268.1" y2="172.88" stroke="#333" stroke-width="0.6"/>
<text transform="translate(263.90,174.93) scale(1.000,1)" font-size="5.70" text-anchor="end" fill="#222" stroke="#222" stroke-width="0.2" font-weight="normal" >−2.02</text>
<line x1="266.1" y1="178.62" x2="268.1" y2="178.62" stroke="#333" stroke-width="0.6"/>
<text transform="translate(263.90,180.67) scale(1.000,1)" font-size="5.70" text-anchor="end" fill="#222" stroke="#222" stroke-width="0.2" font-weight="normal" >−2.65</text>
<line x1="266.1" y1="182.07" x2="268.1" y2="182.07" stroke="#333" stroke-width="0.6"/>
<text transform="translate(263.90,184.12) scale(1.000,1)" font-size="5.70" text-anchor="end" fill="#222" stroke="#222" stroke-width="0.2" font-weight="normal" >−3.03</text>
<line x1="268.10" y1="185.7" x2="268.10" y2="187.7" stroke="#333" stroke-width="0.6"/>
<text transform="translate(268.10,193.20) scale(1.000,1)" font-size="5.70" text-anchor="middle" fill="#222" stroke="#222" stroke-width="0.2" font-weight="normal" >−0.2</text>
<line x1="299.01" y1="185.7" x2="299.01" y2="187.7" stroke="#333" stroke-width="0.6"/>
<text transform="translate(299.01,193.20) scale(1.000,1)" font-size="5.70" text-anchor="middle" fill="#222" stroke="#222" stroke-width="0.2" font-weight="normal" >−0.1</text>
<line x1="329.93" y1="185.7" x2="329.93" y2="187.7" stroke="#333" stroke-width="0.6"/>
<text transform="translate(329.93,193.20) scale(1.000,1)" font-size="5.70" text-anchor="middle" fill="#222" stroke="#222" stroke-width="0.2" font-weight="normal" >0.0</text>
<line x1="360.84" y1="185.7" x2="360.84" y2="187.7" stroke="#333" stroke-width="0.6"/>
<text transform="translate(360.84,193.20) scale(1.000,1)" font-size="5.70" text-anchor="middle" fill="#222" stroke="#222" stroke-width="0.2" font-weight="normal" >0.1</text>
<line x1="391.76" y1="185.7" x2="391.76" y2="187.7" stroke="#333" stroke-width="0.6"/>
<text transform="translate(391.76,193.20) scale(1.000,1)" font-size="5.70" text-anchor="middle" fill="#222" stroke="#222" stroke-width="0.2" font-weight="normal" >0.2</text>
<line x1="422.67" y1="185.7" x2="422.67" y2="187.7" stroke="#333" stroke-width="0.6"/>
<text transform="translate(422.67,193.20) scale(1.000,1)" font-size="5.70" text-anchor="middle" fill="#222" stroke="#222" stroke-width="0.2" font-weight="normal" >0.3</text>
<line x1="453.59" y1="185.7" x2="453.59" y2="187.7" stroke="#333" stroke-width="0.6"/>
<text transform="translate(453.59,193.20) scale(1.000,1)" font-size="5.70" text-anchor="middle" fill="#222" stroke="#222" stroke-width="0.2" font-weight="normal" >0.4</text>
<line x1="484.50" y1="185.7" x2="484.50" y2="187.7" stroke="#333" stroke-width="0.6"/>
<text transform="translate(484.50,193.20) scale(1.000,1)" font-size="5.70" text-anchor="middle" fill="#222" stroke="#222" stroke-width="0.2" font-weight="normal" >0.5</text>
<text transform="translate(377.00,201.80) scale(1.000,1)" font-size="5.70" text-anchor="middle" fill="#222" stroke="#222" stroke-width="0.2" font-weight="normal" >Time (s)</text>
<text transform="translate(241.5,155.5) rotate(-90) scale(1,1.000)" font-size="5.42" text-anchor="middle" fill="#222" stroke="#222" stroke-width="0.2">Activation</text>
<path d="M268.3,142.5C268.7,143.2 269.6,144.9 270.3,146.7C271.0,148.4 271.8,152.2 272.5,153.0C273.2,153.8 274.0,151.5 274.7,151.7C275.4,151.8 275.9,154.2 276.7,153.8C277.4,153.4 278.4,150.5 279.2,149.2C279.9,147.8 280.5,146.0 281.2,145.8C281.8,145.7 282.5,147.2 283.0,148.3C283.5,149.4 283.7,152.5 284.2,152.5C284.6,152.5 285.3,148.6 285.8,148.3C286.4,148.1 286.9,150.1 287.5,150.8C288.1,151.5 288.6,152.5 289.2,152.5C289.7,152.5 290.3,150.7 290.8,150.8C291.4,151.0 291.9,153.5 292.5,153.3C293.1,153.2 293.7,150.0 294.2,150.0C294.6,150.0 294.8,154.4 295.3,153.3C295.9,152.2 296.9,144.4 297.5,143.3C298.1,142.2 298.7,145.4 299.2,146.7C299.6,147.9 299.8,150.9 300.3,150.8C300.9,150.8 301.9,147.0 302.5,146.3C303.1,145.6 303.5,145.9 304.2,146.7C304.8,147.4 305.7,149.8 306.3,150.8C307.0,151.9 307.4,153.3 308.0,153.0C308.6,152.7 309.4,149.8 310.0,149.2C310.6,148.5 311.1,148.5 311.7,149.2C312.3,149.8 313.0,152.6 313.7,153.0C314.4,153.4 315.2,151.3 315.8,151.3C316.5,151.4 316.9,153.4 317.5,153.3C318.1,153.2 318.5,151.0 319.2,150.8C319.8,150.7 320.6,152.5 321.3,152.5C322.0,152.5 322.7,150.8 323.3,150.8C324.0,150.9 324.7,153.1 325.3,153.0C325.9,152.9 326.4,150.6 327.0,150.5C327.6,150.4 328.5,152.4 329.2,152.5C329.8,152.6 330.3,151.0 330.8,150.8C331.4,150.7 331.9,151.2 332.5,151.7C333.1,152.2 333.4,153.6 334.2,153.8C334.9,154.1 336.2,154.4 337.0,153.3C337.8,152.3 338.4,149.3 339.2,147.5C339.9,145.7 340.6,143.2 341.3,142.5C342.0,141.8 342.6,142.6 343.3,143.3C344.1,144.0 345.1,145.3 345.8,146.7C346.5,148.1 346.9,150.6 347.5,151.7C348.1,152.8 348.5,153.6 349.2,153.3C349.8,153.1 350.5,150.9 351.3,150.3C352.2,149.7 353.2,150.2 354.2,149.7C355.1,149.1 356.2,147.1 357.0,147.2C357.8,147.2 358.5,148.9 359.2,150.0C359.8,151.1 360.2,153.8 360.8,153.8C361.5,153.8 362.3,150.9 363.0,150.0C363.7,149.1 364.4,148.5 365.0,148.7C365.6,148.8 366.0,150.1 366.7,150.8C367.4,151.6 368.4,153.1 369.2,153.3C369.9,153.6 370.7,153.1 371.3,152.5C372.0,151.9 372.4,149.8 373.0,149.7C373.6,149.5 374.1,152.7 374.7,151.7C375.3,150.6 376.1,145.0 376.7,143.3C377.2,141.7 377.5,141.4 378.0,141.7C378.5,141.9 379.0,143.0 379.7,145.0C380.3,147.0 381.2,152.9 382.0,153.8C382.8,154.8 383.4,151.0 384.2,150.5C384.9,150.0 385.8,150.5 386.7,150.8C387.5,151.2 388.4,152.1 389.2,152.5C389.9,152.9 390.6,154.3 391.3,153.3C392.0,152.4 392.7,148.6 393.3,146.7C394.0,144.7 394.7,141.9 395.3,141.7C395.9,141.4 396.4,143.2 397.0,145.0C397.6,146.8 398.5,151.1 399.2,152.5C399.8,153.9 400.2,153.9 400.8,153.3C401.5,152.8 402.4,149.8 403.0,149.2C403.6,148.6 404.2,148.9 404.7,149.7C405.1,150.4 405.4,153.8 405.8,153.8C406.3,153.8 407.0,149.9 407.5,149.7C408.0,149.4 408.3,154.4 408.8,152.5C409.3,150.6 410.0,142.2 410.5,138.3C411.0,134.4 411.5,131.1 412.0,129.2C412.5,127.2 413.1,126.5 413.7,126.7C414.2,126.8 414.7,127.6 415.3,130.0C416.0,132.4 416.9,138.6 417.5,140.8C418.1,143.1 418.4,143.2 419.2,143.3C419.9,143.5 421.2,141.7 422.0,141.7C422.8,141.6 423.4,142.3 424.2,143.0C424.9,143.7 425.7,145.4 426.7,145.8C427.6,146.2 429.0,144.9 430.0,145.3C431.0,145.8 431.7,146.9 432.5,148.3C433.3,149.8 434.2,153.8 435.0,153.8C435.8,153.8 436.7,148.6 437.5,148.3C438.3,148.1 439.2,152.3 440.0,152.5C440.8,152.7 441.5,149.5 442.5,149.7C443.5,149.8 444.9,152.9 445.8,153.3C446.8,153.8 447.5,153.1 448.3,152.5C449.2,151.9 450.1,149.7 450.8,149.7C451.5,149.7 451.9,153.3 452.5,152.5C453.1,151.7 454.0,146.5 454.7,145.0C455.3,143.5 455.8,142.9 456.3,143.3C456.9,143.8 457.4,147.5 458.0,147.5C458.6,147.5 459.5,144.6 460.0,143.3C460.5,142.1 460.4,141.3 460.8,140.0C461.2,138.7 461.9,136.0 462.5,135.3C463.1,134.6 463.5,135.2 464.2,135.8C464.9,136.5 465.8,138.2 466.7,139.2C467.5,140.1 468.3,141.1 469.2,141.7C470.0,142.2 470.8,143.3 471.7,142.5C472.5,141.7 473.5,138.5 474.2,136.7C474.9,134.9 475.3,132.6 475.8,131.7C476.4,130.8 476.9,130.6 477.5,131.3C478.1,132.0 478.6,133.8 479.2,135.8C479.7,137.8 480.3,141.4 480.8,143.3C481.4,145.2 482.0,147.0 482.5,147.2C483.0,147.3 483.3,145.4 483.7,144.2C484.0,143.0 484.5,140.7 484.7,140.0" fill="none" stroke="#1a1a1a" stroke-width="1.05" stroke-linejoin="round" stroke-linecap="round"/>
<rect x="271.7" y="164.3" width="39.3" height="18.1" rx="1" fill="#fff" fill-opacity="0.8" stroke="#d2d2d2" stroke-width="0.6"/>
<text transform="translate(291.35,171.54) scale(1.000,1)" font-size="5.70" text-anchor="middle" fill="#222" stroke="#222" stroke-width="0.2" font-weight="normal" >Vertex</text>
<line x1="274.1" y1="177.3" x2="285.8" y2="177.3" stroke="#1a1a1a" stroke-width="1"/>
<text transform="translate(290.17,179.38) scale(1.000,1)" font-size="5.70" text-anchor="start" fill="#222" stroke="#222" stroke-width="0.2" font-weight="normal" >17475</text>
<text x="285.3" y="221.6" font-family="'Liberation Serif','Times New Roman',serif" font-size="10" fill="#1a1a1a">(b) STC R.Volume : FRAAN - LCMV</text>
</g>
<g>
<rect x="531.4" y="55.5" width="236.7" height="60.0" fill="#000"/>
<clipPath id="cp9"><rect x="531.4" y="55.5" width="236.7" height="60.0"/></clipPath>
<g clip-path="url(#cp9)">
<g filter="url(#f05)">
<path d="M557,97 L557.6,110.4 L583.4,110.4 L584,97 Z" fill="#242424" stroke="#8a8a8a" stroke-width="0.80"/>
<ellipse cx="564.6" cy="105.6" rx="3.2" ry="4.4" fill="#4e4e4e" />
<ellipse cx="576.6" cy="105.6" rx="3.2" ry="4.4" fill="#4e4e4e" />
<path d="M568.6,101 L570.5,108 L572.4,101 Z" fill="#8c8c8c"/>
<ellipse cx="570.2" cy="85.2" rx="19.8" ry="17.4" fill="#202020" stroke="#b2b2b2" stroke-width="1.30" />
<ellipse cx="570.2" cy="84.8" rx="17.2" ry="14.6" fill="#3c3c3c" />
<ellipse cx="562.0" cy="84.0" rx="5.0" ry="8.0" fill="#464646" opacity="0.80" />
<ellipse cx="576.0" cy="78.0" rx="6.0" ry="4.0" fill="#444" opacity="0.80" />
<path d="M554.6,94.6 Q570,103.6 585.8,94.6 L585,99.4 Q570,107 555.4,99.4 Z" fill="#181818"/>
<path d="M610.8,90 C610,76 621,66.8 636,66.8 C651,66.8 662,75 664,86 L664.4,98 L661,110.4 L624,110.4 C616,105.6 611.2,98.6 610.8,90 Z" fill="#202020" stroke="#555" stroke-width="0.80"/>
<path d="M624,110.4 C616,105.6 611.2,98.6 610.8,90 C610,76 621,66.8 636,66.8 C651,66.8 662,75 664,86" fill="none" stroke="#b2b2b2" stroke-width="1.20"/>
<ellipse cx="634.6" cy="85.2" rx="21.8" ry="15.6" fill="#3c3c3c" transform="rotate(-3.0 634.6 85.2)" />
<ellipse cx="628.0" cy="78.0" rx="9.0" ry="5.0" fill="#464646" opacity="0.80" />
<path d="M622,101 Q636,105.6 649,98.6 L653,93 L663,90 L663.4,98 L660.2,109.4 L624.6,109.4 Z" fill="#1c1c1c"/>
<ellipse cx="655.6" cy="97.4" rx="4.2" ry="5.6" fill="#0a0a0a" stroke="#9a9a9a" stroke-width="1.00" />
<ellipse cx="644.0" cy="105.6" rx="6.0" ry="3.2" fill="#5c5c5c" />
<ellipse cx="631.6" cy="106.4" rx="5.0" ry="2.8" fill="#525252" />
<ellipse cx="650.6" cy="88.6" rx="3.4" ry="2.8" fill="#5e5e5e" />
<ellipse cx="705.7" cy="84.7" rx="23.0" ry="24.0" fill="#202020" stroke="#b2b2b2" stroke-width="1.30" />
<ellipse cx="705.7" cy="84.7" rx="20.4" ry="21.4" fill="#474747" />
<ellipse cx="697.0" cy="76.0" rx="7.0" ry="8.0" fill="#484848" opacity="0.80" />
<ellipse cx="715.0" cy="74.0" rx="6.0" ry="7.0" fill="#484848" opacity="0.80" />
<ellipse cx="694.0" cy="95.0" rx="6.0" ry="7.0" fill="#464646" opacity="0.70" />
<path d="M705.6,64 L705.4,82" fill="none" stroke="#1e1e1e" stroke-width="1.00"/>
</g>
<clipPath id="cp10"><ellipse cx="570.2" cy="85.2" rx="19.2" ry="16.8" fill="#fff" /></clipPath>
<g clip-path="url(#cp10)" filter="url(#f1)">
<path d="M564.6,84.6 Q569,78.4 577,80 L582.4,83 Q588.4,84 588.2,89 L586.4,96 L581.4,98 Q578.6,93 574,92 L567,90.4 Z" fill="#ff7410" stroke="#f24a0a" stroke-width="1.20"/>
<ellipse cx="577.6" cy="87.4" rx="5.6" ry="3.8" fill="#ffa21c" />
<ellipse cx="580.6" cy="88.2" rx="3.6" ry="3.2" fill="#ffe450" />
</g>
<clipPath id="cp11"><path d="M610.8,90 C610,76 621,66.8 636,66.8 C651,66.8 662,75 664,86 L664.4,98 L661,110.4 L624,110.4 C616,105.6 611.2,98.6 610.8,90 Z" fill="#fff"/></clipPath>
<g clip-path="url(#cp11)" filter="url(#f1)">
<path d="M643,77.4 Q648,73.8 653,77 L657,82 L651,84.4 L645,82.4 Z" fill="#e21e0c"/>
<path d="M613,87.4 Q615,82 622,81.8 L629,81 L634,86 L641,88 Q646.4,90 645.4,95 L638,97.4 L627,96.4 L618,94.4 Q613,92 613,87.4 Z" fill="#ff7410" stroke="#f24a0a" stroke-width="1.20"/>
<ellipse cx="622.0" cy="88.6" rx="5.4" ry="4.0" fill="#ffa21c" />
<ellipse cx="638.0" cy="93.0" rx="5.0" ry="3.0" fill="#ffa21c" />
<ellipse cx="620.6" cy="89.0" rx="3.4" ry="3.0" fill="#ffe450" />
<ellipse cx="640.0" cy="93.4" rx="3.0" ry="2.2" fill="#ffe450" />
</g>
<clipPath id="cp12"><ellipse cx="705.7" cy="84.7" rx="22.4" ry="23.4" fill="#fff" /></clipPath>
<g clip-path="url(#cp12)" filter="url(#f1)">
<path d="M697,84 Q700,80 708,81 L716,80 L724,78.4 L724.4,85 L721,88 L724.6,93 L720.4,99 L717.4,105.4 L711.6,104.4 L708,99 L700,96 Q695.6,90 697,84 Z" fill="#ff7410" stroke="#f24a0a" stroke-width="1.20"/>
<ellipse cx="706.5" cy="90.0" rx="6.4" ry="6.2" fill="#ffa21c" />
<ellipse cx="705.5" cy="90.0" rx="3.4" ry="3.6" fill="#ffc030" />
<ellipse cx="714.6" cy="98.4" rx="4.2" ry="4.6" fill="#ffa21c" />
<ellipse cx="715.6" cy="99.6" rx="3.0" ry="3.2" fill="#ffe450" />
</g>
<line x1="531.4" y1="89.6" x2="664.2" y2="89.6" stroke="#e4e4e4" stroke-width="0.90"/>
<line x1="580.0" y1="62.0" x2="580.0" y2="108.8" stroke="#e4e4e4" stroke-width="0.90"/>
<line x1="620.6" y1="62.0" x2="620.6" y2="104.0" stroke="#e4e4e4" stroke-width="0.90"/>
<line x1="667.0" y1="98.9" x2="742.4" y2="98.9" stroke="#e4e4e4" stroke-width="0.90"/>
<line x1="715.8" y1="62.5" x2="715.8" y2="108.0" stroke="#e4e4e4" stroke-width="0.90"/>
<text transform="translate(538.80,69.20) scale(1.050,1)" font-size="6.40" text-anchor="start" fill="#ececec" stroke="#ececec" stroke-width="0.05" font-weight="normal" >L</text>
<text transform="translate(593.60,69.20) scale(1.050,1)" font-size="6.40" text-anchor="start" fill="#ececec" stroke="#ececec" stroke-width="0.05" font-weight="normal" >R</text>
<text transform="translate(674.20,70.00) scale(1.050,1)" font-size="6.40" text-anchor="start" fill="#ececec" stroke="#ececec" stroke-width="0.05" font-weight="normal" >L</text>
<text transform="translate(729.60,70.00) scale(1.050,1)" font-size="6.40" text-anchor="start" fill="#ececec" stroke="#ececec" stroke-width="0.05" font-weight="normal" >R</text>
<text transform="translate(531.00,109.60) scale(1.050,1)" font-size="6.40" text-anchor="start" fill="#ececec" stroke="#ececec" stroke-width="0.05" font-weight="normal" >y=-59</text>
<text transform="translate(607.50,109.60) scale(1.050,1)" font-size="6.40" text-anchor="start" fill="#ececec" stroke="#ececec" stroke-width="0.05" font-weight="normal" >x=34</text>
<text transform="translate(667.50,109.60) scale(1.050,1)" font-size="6.40" text-anchor="start" fill="#ececec" stroke="#ececec" stroke-width="0.05" font-weight="normal" >z=-14</text>
<rect x="762.4" y="58.5" width="4.1" height="54.7" fill="url(#cbC)"/>
<text transform="translate(758.00,62.09) scale(0.950,1)" font-size="5.80" text-anchor="end" fill="#dcdcdc" stroke="#dcdcdc" stroke-width="0.05" font-weight="normal" >1.5</text>
<text transform="translate(758.00,70.69) scale(0.950,1)" font-size="5.80" text-anchor="end" fill="#dcdcdc" stroke="#dcdcdc" stroke-width="0.05" font-weight="normal" >1</text>
<text transform="translate(758.00,72.29) scale(0.950,1)" font-size="5.80" text-anchor="end" fill="#dcdcdc" stroke="#dcdcdc" stroke-width="0.05" font-weight="normal" >0.88</text>
<text transform="translate(758.00,88.29) scale(0.950,1)" font-size="5.80" text-anchor="end" fill="#dcdcdc" stroke="#dcdcdc" stroke-width="0.05" font-weight="normal" >0</text>
<text transform="translate(758.00,104.89) scale(0.950,1)" font-size="5.80" text-anchor="end" fill="#dcdcdc" stroke="#dcdcdc" stroke-width="0.05" font-weight="normal" >-0.88</text>
<text transform="translate(758.00,106.69) scale(0.950,1)" font-size="5.80" text-anchor="end" fill="#dcdcdc" stroke="#dcdcdc" stroke-width="0.05" font-weight="normal" >-1</text>
<text transform="translate(758.00,116.09) scale(0.950,1)" font-size="5.80" text-anchor="end" fill="#dcdcdc" stroke="#dcdcdc" stroke-width="0.05" font-weight="normal" >-1.5</text>
</g>
<rect x="531.2" y="122.4" width="236.9" height="60.9" fill="#fff" stroke="#4c4c4c" stroke-width="0.8"/>
<line x1="669.0" y1="122.4" x2="669.0" y2="183.3" stroke="#579a57" stroke-width="1.40"/>
<line x1="529.2" y1="125.94" x2="531.2" y2="125.94" stroke="#333" stroke-width="0.6"/>
<text transform="translate(527.00,128.00) scale(1.100,1)" font-size="5.70" text-anchor="end" fill="#222" stroke="#222" stroke-width="0.2" font-weight="normal" >1.46</text>
<line x1="529.2" y1="134.31" x2="531.2" y2="134.31" stroke="#333" stroke-width="0.6"/>
<text transform="translate(527.00,136.37) scale(1.100,1)" font-size="5.70" text-anchor="end" fill="#222" stroke="#222" stroke-width="0.2" font-weight="normal" >1.01</text>
<line x1="529.2" y1="136.73" x2="531.2" y2="136.73" stroke="#333" stroke-width="0.6"/>
<text transform="translate(527.00,138.78) scale(1.100,1)" font-size="5.70" text-anchor="end" fill="#222" stroke="#222" stroke-width="0.2" font-weight="normal" >0.88</text>
<line x1="529.2" y1="153.10" x2="531.2" y2="153.10" stroke="#333" stroke-width="0.6"/>
<text transform="translate(527.00,155.15) scale(1.100,1)" font-size="5.70" text-anchor="end" fill="#222" stroke="#222" stroke-width="0.2" font-weight="normal" >0.00</text>
<line x1="529.2" y1="169.47" x2="531.2" y2="169.47" stroke="#333" stroke-width="0.6"/>
<text transform="translate(527.00,171.52) scale(1.100,1)" font-size="5.70" text-anchor="end" fill="#222" stroke="#222" stroke-width="0.2" font-weight="normal" >−0.88</text>
<line x1="529.2" y1="171.89" x2="531.2" y2="171.89" stroke="#333" stroke-width="0.6"/>
<text transform="translate(527.00,173.94) scale(1.100,1)" font-size="5.70" text-anchor="end" fill="#222" stroke="#222" stroke-width="0.2" font-weight="normal" >−1.01</text>
<line x1="529.2" y1="180.26" x2="531.2" y2="180.26" stroke="#333" stroke-width="0.6"/>
<text transform="translate(527.00,182.31) scale(1.100,1)" font-size="5.70" text-anchor="end" fill="#222" stroke="#222" stroke-width="0.2" font-weight="normal" >−1.46</text>
<line x1="531.20" y1="183.3" x2="531.20" y2="185.3" stroke="#333" stroke-width="0.6"/>
<text transform="translate(531.20,190.80) scale(1.100,1)" font-size="5.70" text-anchor="middle" fill="#222" stroke="#222" stroke-width="0.2" font-weight="normal" >−0.2</text>
<line x1="565.04" y1="183.3" x2="565.04" y2="185.3" stroke="#333" stroke-width="0.6"/>
<text transform="translate(565.04,190.80) scale(1.100,1)" font-size="5.70" text-anchor="middle" fill="#222" stroke="#222" stroke-width="0.2" font-weight="normal" >−0.1</text>
<line x1="598.89" y1="183.3" x2="598.89" y2="185.3" stroke="#333" stroke-width="0.6"/>
<text transform="translate(598.89,190.80) scale(1.100,1)" font-size="5.70" text-anchor="middle" fill="#222" stroke="#222" stroke-width="0.2" font-weight="normal" >0.0</text>
<line x1="632.73" y1="183.3" x2="632.73" y2="185.3" stroke="#333" stroke-width="0.6"/>
<text transform="translate(632.73,190.80) scale(1.100,1)" font-size="5.70" text-anchor="middle" fill="#222" stroke="#222" stroke-width="0.2" font-weight="normal" >0.1</text>
<line x1="666.57" y1="183.3" x2="666.57" y2="185.3" stroke="#333" stroke-width="0.6"/>
<text transform="translate(666.57,190.80) scale(1.100,1)" font-size="5.70" text-anchor="middle" fill="#222" stroke="#222" stroke-width="0.2" font-weight="normal" >0.2</text>
<line x1="700.41" y1="183.3" x2="700.41" y2="185.3" stroke="#333" stroke-width="0.6"/>
<text transform="translate(700.41,190.80) scale(1.100,1)" font-size="5.70" text-anchor="middle" fill="#222" stroke="#222" stroke-width="0.2" font-weight="normal" >0.3</text>
<line x1="734.26" y1="183.3" x2="734.26" y2="185.3" stroke="#333" stroke-width="0.6"/>
<text transform="translate(734.26,190.80) scale(1.100,1)" font-size="5.70" text-anchor="middle" fill="#222" stroke="#222" stroke-width="0.2" font-weight="normal" >0.4</text>
<line x1="768.10" y1="183.3" x2="768.10" y2="185.3" stroke="#333" stroke-width="0.6"/>
<text transform="translate(768.10,190.80) scale(1.100,1)" font-size="5.70" text-anchor="middle" fill="#222" stroke="#222" stroke-width="0.2" font-weight="normal" >0.5</text>
<text transform="translate(649.70,199.80) scale(1.100,1)" font-size="5.70" text-anchor="middle" fill="#222" stroke="#222" stroke-width="0.2" font-weight="normal" >Time (s)</text>
<text transform="translate(501.5,154.0) rotate(-90) scale(1,1.100)" font-size="5.42" text-anchor="middle" fill="#222" stroke="#222" stroke-width="0.2">Activation</text>
<path d="M531.3,136.3C531.6,137.7 532.2,142.4 532.7,144.7C533.1,146.9 533.3,149.2 533.8,150.0C534.4,150.8 535.4,149.4 536.0,149.7C536.6,150.0 537.1,152.7 537.7,151.8C538.2,151.0 538.8,146.7 539.3,144.7C539.9,142.6 540.5,140.6 541.0,139.7C541.5,138.8 541.8,138.6 542.2,139.3C542.6,140.0 542.9,141.9 543.3,143.8C543.8,145.8 544.2,150.9 544.7,151.0C545.2,151.1 545.8,146.7 546.3,144.7C546.9,142.6 547.4,140.1 548.0,138.8C548.6,137.6 549.0,137.2 549.7,137.2C550.4,137.1 551.4,138.1 552.2,138.3C552.9,138.6 553.6,139.4 554.3,138.8C555.1,138.2 555.9,136.3 556.7,134.7C557.4,133.0 558.2,130.1 558.8,128.8C559.5,127.6 559.9,127.0 560.5,127.2C561.1,127.3 561.9,127.9 562.5,129.7C563.1,131.5 563.7,135.4 564.3,138.0C565.0,140.6 565.7,143.8 566.3,145.5C566.9,147.2 567.4,148.1 568.0,148.5C568.6,148.9 569.1,148.9 569.7,148.0C570.3,147.1 571.1,144.4 571.7,143.0C572.3,141.6 572.8,140.2 573.3,139.7C573.9,139.1 574.4,138.7 575.0,139.7C575.6,140.6 576.1,143.7 576.7,145.5C577.2,147.3 577.8,150.9 578.3,150.5C578.9,150.1 579.4,144.9 580.0,143.0C580.6,141.1 581.2,139.2 581.7,138.8C582.2,138.4 582.5,138.8 583.0,140.5C583.5,142.2 584.2,147.1 584.7,148.8C585.1,150.6 585.4,152.0 585.8,151.0C586.2,150.0 586.7,145.7 587.2,143.0C587.7,140.3 588.4,136.2 588.8,134.7C589.3,133.1 589.5,133.2 590.0,133.5C590.5,133.8 591.1,134.5 591.7,136.3C592.2,138.2 592.8,142.2 593.3,144.7C593.9,147.1 594.4,150.9 595.0,151.0C595.6,151.1 596.1,146.7 596.7,145.5C597.2,144.3 597.8,143.6 598.3,143.8C598.9,144.1 599.4,145.8 600.0,147.2C600.6,148.5 601.1,152.1 601.7,151.8C602.2,151.6 602.8,146.8 603.3,145.5C603.8,144.2 604.2,144.1 604.7,144.3C605.2,144.6 605.8,146.1 606.3,147.2C606.9,148.2 607.4,150.3 608.0,150.5C608.6,150.7 609.4,148.5 610.0,148.3C610.6,148.2 611.0,148.9 611.7,149.7C612.3,150.4 613.1,152.7 613.8,152.7C614.6,152.7 615.5,150.4 616.3,149.7C617.2,148.9 618.0,148.5 618.8,148.0C619.7,147.5 620.6,146.5 621.3,146.7C622.0,146.8 622.5,148.0 623.0,148.8C623.5,149.7 623.8,152.4 624.3,151.8C624.9,151.3 625.7,147.0 626.3,145.5C626.9,144.0 627.3,142.6 628.0,143.0C628.7,143.4 629.6,146.4 630.3,148.0C631.1,149.6 631.8,152.1 632.5,152.5C633.2,152.9 634.0,150.8 634.7,150.5C635.4,150.2 635.9,150.6 636.7,151.0C637.4,151.4 638.4,153.2 639.2,152.7C639.9,152.2 640.6,149.5 641.3,148.0C642.0,146.5 642.7,144.4 643.3,143.8C643.9,143.3 644.4,143.5 645.0,144.7C645.6,145.9 646.4,150.7 647.0,151.0C647.6,151.3 648.1,146.4 648.7,146.3C649.2,146.2 649.8,151.1 650.3,150.5C650.9,149.9 651.4,145.6 652.0,143.0C652.6,140.4 653.5,136.3 654.2,134.7C654.8,133.0 655.3,132.7 655.8,133.0C656.4,133.3 656.9,134.1 657.5,136.3C658.1,138.6 659.0,144.3 659.7,146.3C660.4,148.3 661.0,148.9 661.7,148.3C662.3,147.8 663.0,145.3 663.7,143.0C664.4,140.7 665.2,137.3 665.8,134.7C666.5,132.0 666.9,128.8 667.5,127.2C668.1,125.5 668.6,124.5 669.2,124.7C669.7,124.8 670.3,125.5 670.8,128.0C671.4,130.5 671.9,135.8 672.5,139.7C673.1,143.5 673.6,150.2 674.2,151.0C674.7,151.8 675.3,145.9 675.8,144.7C676.4,143.5 676.9,142.8 677.5,143.8C678.1,144.9 679.0,150.3 679.7,151.0C680.4,151.7 681.1,148.5 681.7,148.0C682.3,147.5 682.8,147.4 683.3,148.0C683.9,148.6 684.4,152.4 685.0,151.3C685.6,150.2 686.3,144.2 687.0,141.3C687.7,138.4 688.5,135.4 689.2,133.8C689.8,132.3 690.3,132.0 690.8,132.2C691.4,132.3 691.9,132.6 692.5,134.7C693.1,136.8 694.0,141.9 694.7,144.7C695.4,147.4 695.9,150.4 696.7,151.3C697.4,152.3 698.4,151.6 699.2,150.5C699.9,149.4 700.5,146.2 701.2,144.7C701.9,143.1 702.7,141.4 703.3,141.0C704.0,140.6 704.4,140.9 705.0,142.2C705.6,143.5 706.4,147.4 707.0,148.8C707.6,150.2 708.0,151.8 708.7,150.5C709.3,149.2 710.2,143.4 710.8,141.3C711.5,139.2 711.9,138.4 712.5,138.0C713.1,137.6 714.0,137.4 714.7,138.8C715.4,140.2 716.1,144.1 716.7,146.3C717.3,148.6 717.8,151.8 718.3,152.2C718.9,152.6 719.5,149.3 720.0,148.8C720.5,148.4 720.8,149.0 721.3,149.3C721.8,149.7 722.4,151.0 723.0,151.0C723.6,151.0 724.2,150.1 725.0,149.3C725.8,148.6 726.7,147.7 727.5,146.3C728.3,145.0 729.0,143.3 729.7,141.3C730.4,139.4 731.1,136.1 731.7,134.7C732.3,133.3 732.8,132.7 733.3,133.0C733.9,133.3 734.4,134.2 735.0,136.3C735.6,138.4 736.2,143.0 736.7,145.5C737.2,148.0 737.5,151.2 738.0,151.3C738.5,151.5 739.1,147.0 739.7,146.3C740.2,145.6 740.8,146.5 741.3,147.2C741.9,147.9 742.4,149.6 743.0,150.5C743.6,151.4 744.3,152.4 745.0,152.5C745.7,152.6 746.3,151.4 747.0,151.0C747.7,150.6 748.4,149.9 749.2,150.0C749.9,150.1 750.6,151.4 751.3,151.8C752.0,152.2 752.6,152.9 753.3,152.5C754.1,152.1 755.0,150.8 755.8,149.7C756.7,148.5 757.5,146.6 758.3,145.5C759.2,144.4 760.1,143.3 760.8,143.3C761.6,143.3 762.3,144.7 763.0,145.5C763.7,146.3 764.2,147.7 765.0,148.3C765.8,149.0 767.1,149.2 767.5,149.3" fill="none" stroke="#1a1a1a" stroke-width="1.05" stroke-linejoin="round" stroke-linecap="round"/>
<rect x="534.3" y="162.9" width="44.0" height="17.8" rx="1" fill="#fff" fill-opacity="0.8" stroke="#d2d2d2" stroke-width="0.6"/>
<text transform="translate(556.30,170.02) scale(1.100,1)" font-size="5.70" text-anchor="middle" fill="#222" stroke="#222" stroke-width="0.2" font-weight="normal" >Vertex</text>
<line x1="536.9" y1="175.7" x2="550.1" y2="175.7" stroke="#1a1a1a" stroke-width="1"/>
<text transform="translate(554.98,177.77) scale(1.100,1)" font-size="5.70" text-anchor="start" fill="#222" stroke="#222" stroke-width="0.2" font-weight="normal" >10731</text>
<text x="552.3" y="221.6" font-family="'Liberation Serif','Times New Roman',serif" font-size="10" fill="#1a1a1a">(c) STC R.Volume : JANPAT - LCMV</text>
</g>
<g>
<rect x="43.0" y="240.8" width="180.0" height="61.7" fill="#000"/>
<clipPath id="cp13"><rect x="43.0" y="240.8" width="180.0" height="61.7"/></clipPath>
<g clip-path="url(#cp13)">
<g filter="url(#f05)">
<path d="M57.4,272 C57.4,261 63,255 72,255 C81,255 86.4,261 86.4,272 L86,286 Q85.4,294 78,294 L66,294 Q58.4,294 58,286 Z" fill="#222" stroke="#b4b4b4" stroke-width="1.20"/>
<path d="M59.8,272 C59.8,262.4 64.4,257.4 72,257.4 C79.6,257.4 84,262.4 84,272 L83.8,281 Q72,286 60,281 Z" fill="#444"/>
<path d="M60,281 Q72,286 83.8,281 L83.6,286 Q83,292 78,292 L66,292 Q61,292 60.4,286 Z" fill="#303030"/>
<ellipse cx="72.0" cy="285.4" rx="4.4" ry="2.8" fill="#161616" />
<ellipse cx="72.0" cy="290.4" rx="6.0" ry="2.0" fill="#9a9a9a" />
<ellipse cx="64.6" cy="287.0" rx="2.2" ry="3.4" fill="#5a5a5a" />
<ellipse cx="79.4" cy="287.0" rx="2.2" ry="3.4" fill="#5a5a5a" />
<path d="M104.2,276 C103.4,263 111,255.2 122,255.2 C133,255.2 139.6,262 140.6,271 L141,283 L139,294.6 L113,294.6 C107.4,290 104.6,284 104.2,276 Z" fill="#222" stroke="#555" stroke-width="0.80"/>
<path d="M113,294.6 C107.4,290 104.6,284 104.2,276 C103.4,263 111,255.2 122,255.2 C133,255.2 139.6,262 140.6,271" fill="none" stroke="#b4b4b4" stroke-width="1.20"/>
<ellipse cx="121.4" cy="271.4" rx="15.4" ry="13.6" fill="#424242" transform="rotate(-6.0 121.4 271.4)" />
<path d="M112,285 Q122,289 131,283 L134,278 L140,276 L140.2,283 L138.2,293.6 L113.6,293.6 Z" fill="#1e1e1e"/>
<ellipse cx="135.6" cy="280.4" rx="3.0" ry="2.6" fill="#0a0a0a" stroke="#a0a0a0" stroke-width="0.90" />
<ellipse cx="127.0" cy="290.4" rx="5.6" ry="2.8" fill="#5e5e5e" />
<ellipse cx="118.0" cy="290.6" rx="3.0" ry="3.0" fill="#545454" />
<ellipse cx="133.0" cy="288.0" rx="2.4" ry="3.4" fill="#4a4a4a" />
<ellipse cx="178.2" cy="272.6" rx="13.4" ry="17.8" fill="#222" stroke="#b4b4b4" stroke-width="1.20" transform="rotate(-16.0 178.2 272.6)" />
<ellipse cx="178.2" cy="272.6" rx="11.2" ry="15.4" fill="#4a4a4a" transform="rotate(-16.0 178.2 272.6)" />
</g>
<clipPath id="cp14"><path d="M57.4,272 C57.4,261 63,255 72,255 C81,255 86.4,261 86.4,272 L86,286 Q85.4,294 78,294 L66,294 Q58.4,294 58,286 Z" fill="#fff"/></clipPath>
<g clip-path="url(#cp14)" filter="url(#f1)">
<path d="M58,262 L72,256 L80,262 L78,270 L70,276 L66,281 L59,279 Z" fill="#e41e0a"/>
<path d="M58,258 Q72,253 86,259 L86,267 L79,269.4 L72,272.6 L65,275 L58,272 Z" fill="#ff8210"/>
<path d="M60,259 Q72,254.4 84.6,259.6 L84.6,265.6 L76,267.6 L67,270.4 L60,267 Z" fill="#ffb020"/>
<path d="M63,259.4 Q72,256 82,260 L81,264.4 L72,266 L65,266 Z" fill="#ffe050"/>
</g>
<clipPath id="cp15"><path d="M104.2,276 C103.4,263 111,255.2 122,255.2 C133,255.2 139.6,262 140.6,271 L141,283 L139,294.6 L113,294.6 C107.4,290 104.6,284 104.2,276 Z" fill="#fff"/></clipPath>
<g clip-path="url(#cp15)" filter="url(#f1)">
<path d="M104,270 Q106,259 114,256 L122,256.4 L124,262 L120,268 L113,272 L111.6,283.4 L106,283.4 Z" fill="#e41e0a"/>
<path d="M106,266 Q108,259 114,257 L120,257.6 L120.6,262 L116,266.4 L110,269.4 Z" fill="#ff8210"/>
<ellipse cx="113.6" cy="260.6" rx="4.2" ry="3.0" fill="#ffb020" transform="rotate(-30.0 113.6 260.6)" />
<ellipse cx="114.0" cy="260.0" rx="2.6" ry="2.0" fill="#ffe050" transform="rotate(-30.0 114.0 260.0)" />
</g>
<clipPath id="cp16"><ellipse cx="178.2" cy="272.6" rx="12.2" ry="16.4" fill="#fff" transform="rotate(-16.0 178.2 272.6)" /></clipPath>
<g clip-path="url(#cp16)" filter="url(#f1)">
<ellipse cx="176.0" cy="268.0" rx="8.0" ry="9.0" fill="#a8281a" opacity="0.55" />
<ellipse cx="177.6" cy="277.0" rx="10.4" ry="9.6" fill="#e41e0a" />
<ellipse cx="178.0" cy="280.0" rx="8.4" ry="7.4" fill="#ff8210" />
<ellipse cx="178.4" cy="281.0" rx="6.4" ry="5.6" fill="#ffb020" />
<ellipse cx="178.8" cy="281.6" rx="4.8" ry="4.2" fill="#ffe050" />
</g>
<line x1="43.0" y1="260.2" x2="147.5" y2="260.2" stroke="#e4e4e4" stroke-width="0.90"/>
<line x1="77.7" y1="249.0" x2="77.7" y2="293.5" stroke="#e4e4e4" stroke-width="0.90"/>
<line x1="110.7" y1="249.0" x2="110.7" y2="293.5" stroke="#e4e4e4" stroke-width="0.90"/>
<line x1="150.0" y1="284.7" x2="203.0" y2="284.7" stroke="#e4e4e4" stroke-width="0.90"/>
<line x1="184.7" y1="244.4" x2="184.7" y2="299.3" stroke="#e4e4e4" stroke-width="0.90"/>
<text transform="translate(48.20,255.70) scale(0.800,1)" font-size="5.80" text-anchor="start" fill="#ececec" stroke="#ececec" stroke-width="0.05" font-weight="normal" >L</text>
<text transform="translate(87.40,255.70) scale(0.800,1)" font-size="5.80" text-anchor="start" fill="#ececec" stroke="#ececec" stroke-width="0.05" font-weight="normal" >R</text>
<text transform="translate(155.80,250.40) scale(0.800,1)" font-size="5.80" text-anchor="start" fill="#ececec" stroke="#ececec" stroke-width="0.05" font-weight="normal" >L</text>
<text transform="translate(194.40,250.40) scale(0.800,1)" font-size="5.80" text-anchor="start" fill="#ececec" stroke="#ececec" stroke-width="0.05" font-weight="normal" >R</text>
<text transform="translate(43.00,294.60) scale(0.800,1)" font-size="5.80" text-anchor="start" fill="#ececec" stroke="#ececec" stroke-width="0.05" font-weight="normal" >y=-54</text>
<text transform="translate(97.20,294.60) scale(0.800,1)" font-size="5.80" text-anchor="start" fill="#ececec" stroke="#ececec" stroke-width="0.05" font-weight="normal" >x=34</text>
<text transform="translate(149.70,299.80) scale(0.800,1)" font-size="5.80" text-anchor="start" fill="#ececec" stroke="#ececec" stroke-width="0.05" font-weight="normal" >z=45</text>
<rect x="218.0" y="243.8" width="3.7" height="55.4" fill="url(#cbA)"/>
<text transform="translate(215.40,246.93) scale(0.850,1)" font-size="4.80" text-anchor="end" fill="#dcdcdc" stroke="#dcdcdc" stroke-width="0.05" font-weight="normal" >1.7</text>
<text transform="translate(215.40,258.23) scale(0.850,1)" font-size="4.80" text-anchor="end" fill="#dcdcdc" stroke="#dcdcdc" stroke-width="0.05" font-weight="normal" >0.98</text>
<text transform="translate(215.40,269.43) scale(0.850,1)" font-size="4.80" text-anchor="end" fill="#dcdcdc" stroke="#dcdcdc" stroke-width="0.05" font-weight="normal" >0.23</text>
<text transform="translate(215.40,273.93) scale(0.850,1)" font-size="4.80" text-anchor="end" fill="#dcdcdc" stroke="#dcdcdc" stroke-width="0.05" font-weight="normal" >0</text>
<text transform="translate(215.40,277.73) scale(0.850,1)" font-size="4.80" text-anchor="end" fill="#dcdcdc" stroke="#dcdcdc" stroke-width="0.05" font-weight="normal" >-0.23</text>
<text transform="translate(215.40,290.43) scale(0.850,1)" font-size="4.80" text-anchor="end" fill="#dcdcdc" stroke="#dcdcdc" stroke-width="0.05" font-weight="normal" >-0.98</text>
<text transform="translate(215.40,301.73) scale(0.850,1)" font-size="4.80" text-anchor="end" fill="#dcdcdc" stroke="#dcdcdc" stroke-width="0.05" font-weight="normal" >-1.7</text>
</g>
<rect x="43.1" y="309.6" width="179.5" height="60.4" fill="#fff" stroke="#4c4c4c" stroke-width="0.8"/>
<line x1="210.4" y1="309.6" x2="210.4" y2="370.0" stroke="#4c6e4c" stroke-width="0.90"/>
<line x1="41.1" y1="312.11" x2="43.1" y2="312.11" stroke="#333" stroke-width="0.6"/>
<text transform="translate(38.90,314.24) scale(0.800,1)" font-size="5.90" text-anchor="end" fill="#222" stroke="#222" stroke-width="0.2" font-weight="normal" >1.66</text>
<line x1="41.1" y1="323.54" x2="43.1" y2="323.54" stroke="#333" stroke-width="0.6"/>
<text transform="translate(38.90,325.66) scale(0.800,1)" font-size="5.90" text-anchor="end" fill="#222" stroke="#222" stroke-width="0.2" font-weight="normal" >0.98</text>
<line x1="41.1" y1="336.14" x2="43.1" y2="336.14" stroke="#333" stroke-width="0.6"/>
<text transform="translate(38.90,338.26) scale(0.800,1)" font-size="5.90" text-anchor="end" fill="#222" stroke="#222" stroke-width="0.2" font-weight="normal" >0.23</text>
<line x1="41.1" y1="340.00" x2="43.1" y2="340.00" stroke="#333" stroke-width="0.6"/>
<text transform="translate(38.90,342.12) scale(0.800,1)" font-size="5.90" text-anchor="end" fill="#222" stroke="#222" stroke-width="0.2" font-weight="normal" >0.00</text>
<line x1="41.1" y1="343.86" x2="43.1" y2="343.86" stroke="#333" stroke-width="0.6"/>
<text transform="translate(38.90,345.99) scale(0.800,1)" font-size="5.90" text-anchor="end" fill="#222" stroke="#222" stroke-width="0.2" font-weight="normal" >−0.23</text>
<line x1="41.1" y1="356.46" x2="43.1" y2="356.46" stroke="#333" stroke-width="0.6"/>
<text transform="translate(38.90,358.59) scale(0.800,1)" font-size="5.90" text-anchor="end" fill="#222" stroke="#222" stroke-width="0.2" font-weight="normal" >−0.98</text>
<line x1="41.1" y1="367.89" x2="43.1" y2="367.89" stroke="#333" stroke-width="0.6"/>
<text transform="translate(38.90,370.01) scale(0.800,1)" font-size="5.90" text-anchor="end" fill="#222" stroke="#222" stroke-width="0.2" font-weight="normal" >−1.66</text>
<line x1="43.10" y1="370.0" x2="43.10" y2="372.0" stroke="#333" stroke-width="0.6"/>
<text transform="translate(43.10,379.20) scale(0.800,1)" font-size="5.90" text-anchor="middle" fill="#222" stroke="#222" stroke-width="0.2" font-weight="normal" >−0.2</text>
<line x1="68.74" y1="370.0" x2="68.74" y2="372.0" stroke="#333" stroke-width="0.6"/>
<text transform="translate(68.74,379.20) scale(0.800,1)" font-size="5.90" text-anchor="middle" fill="#222" stroke="#222" stroke-width="0.2" font-weight="normal" >−0.1</text>
<line x1="94.39" y1="370.0" x2="94.39" y2="372.0" stroke="#333" stroke-width="0.6"/>
<text transform="translate(94.39,379.20) scale(0.800,1)" font-size="5.90" text-anchor="middle" fill="#222" stroke="#222" stroke-width="0.2" font-weight="normal" >0.0</text>
<line x1="120.03" y1="370.0" x2="120.03" y2="372.0" stroke="#333" stroke-width="0.6"/>
<text transform="translate(120.03,379.20) scale(0.800,1)" font-size="5.90" text-anchor="middle" fill="#222" stroke="#222" stroke-width="0.2" font-weight="normal" >0.1</text>
<line x1="145.67" y1="370.0" x2="145.67" y2="372.0" stroke="#333" stroke-width="0.6"/>
<text transform="translate(145.67,379.20) scale(0.800,1)" font-size="5.90" text-anchor="middle" fill="#222" stroke="#222" stroke-width="0.2" font-weight="normal" >0.2</text>
<line x1="171.31" y1="370.0" x2="171.31" y2="372.0" stroke="#333" stroke-width="0.6"/>
<text transform="translate(171.31,379.20) scale(0.800,1)" font-size="5.90" text-anchor="middle" fill="#222" stroke="#222" stroke-width="0.2" font-weight="normal" >0.3</text>
<line x1="196.96" y1="370.0" x2="196.96" y2="372.0" stroke="#333" stroke-width="0.6"/>
<text transform="translate(196.96,379.20) scale(0.800,1)" font-size="5.90" text-anchor="middle" fill="#222" stroke="#222" stroke-width="0.2" font-weight="normal" >0.4</text>
<line x1="222.60" y1="370.0" x2="222.60" y2="372.0" stroke="#333" stroke-width="0.6"/>
<text transform="translate(222.60,379.20) scale(0.800,1)" font-size="5.90" text-anchor="middle" fill="#222" stroke="#222" stroke-width="0.2" font-weight="normal" >0.5</text>
<text transform="translate(132.50,387.60) scale(0.800,1)" font-size="5.90" text-anchor="middle" fill="#222" stroke="#222" stroke-width="0.2" font-weight="normal" >Time (s)</text>
<text transform="translate(19.5,341.0) rotate(-90) scale(1,0.800)" font-size="5.61" text-anchor="middle" fill="#222" stroke="#222" stroke-width="0.2">Activation</text>
<path d="M43.3,331.7C43.5,332.5 43.8,335.4 44.2,336.7C44.5,337.9 44.9,338.9 45.3,339.2C45.8,339.4 46.4,339.3 47.0,338.3C47.6,337.4 48.2,333.9 48.7,333.3C49.2,332.8 49.5,334.0 50.0,335.0C50.5,336.0 51.1,338.6 51.7,339.2C52.3,339.7 53.1,339.2 53.7,338.3C54.3,337.5 54.8,335.1 55.3,334.2C55.8,333.3 56.2,332.7 56.7,333.0C57.2,333.3 57.8,334.9 58.3,335.8C58.9,336.7 59.4,338.3 60.0,338.3C60.6,338.3 61.3,335.7 62.0,335.8C62.7,336.0 63.5,339.4 64.2,339.2C64.8,338.9 65.3,335.6 65.8,334.2C66.4,332.7 66.9,330.8 67.5,330.3C68.1,329.9 68.6,331.3 69.2,331.7C69.7,332.0 70.3,332.6 70.8,332.5C71.4,332.4 71.9,330.6 72.5,330.8C73.1,331.1 73.5,332.9 74.2,334.2C74.8,335.4 75.5,337.6 76.3,338.3C77.2,339.1 78.4,339.4 79.2,338.8C79.9,338.3 80.3,336.2 80.8,335.0C81.4,333.8 81.9,331.2 82.5,331.3C83.1,331.5 83.6,336.1 84.2,335.8C84.7,335.6 85.4,331.1 85.8,330.0C86.3,328.9 86.6,328.2 87.0,329.2C87.4,330.1 87.9,334.4 88.3,335.8C88.8,337.3 89.1,338.1 89.5,338.0C89.9,337.9 90.3,335.9 90.8,335.0C91.3,334.1 92.0,333.6 92.5,332.5C93.0,331.4 93.2,328.5 93.7,328.3C94.1,328.2 94.5,330.0 95.0,331.7C95.5,333.3 96.1,337.4 96.7,338.3C97.2,339.3 97.8,338.3 98.3,337.5C98.9,336.7 99.4,334.6 100.0,333.3C100.6,332.1 101.3,330.7 102.0,330.0C102.7,329.3 103.5,328.9 104.2,329.2C104.8,329.4 105.3,330.3 105.8,331.7C106.4,333.1 106.9,336.2 107.5,337.5C108.1,338.8 108.6,339.9 109.2,339.2C109.7,338.5 110.4,335.6 110.8,333.3C111.3,331.1 111.6,327.3 112.0,325.8C112.4,324.4 112.6,324.0 113.0,324.7C113.4,325.4 113.7,327.9 114.2,330.0C114.6,332.1 115.4,337.8 115.8,337.5C116.3,337.2 116.6,330.2 117.0,328.3C117.4,326.5 117.9,326.1 118.3,326.3C118.8,326.6 119.2,328.1 119.7,330.0C120.2,331.9 120.7,336.0 121.3,337.5C121.9,339.0 122.6,338.9 123.3,339.2C124.1,339.4 125.0,339.4 125.8,339.2C126.7,338.9 127.5,338.2 128.3,337.5C129.2,336.8 130.0,335.6 130.8,335.0C131.7,334.4 132.5,334.6 133.3,334.2C134.2,333.8 135.1,333.0 135.8,332.5C136.5,332.0 137.0,330.9 137.5,331.3C138.0,331.8 138.3,334.0 138.7,335.0C139.1,336.0 139.4,337.6 140.0,337.5C140.6,337.4 141.8,334.6 142.5,334.2C143.2,333.7 143.6,334.0 144.2,334.7C144.8,335.4 145.5,338.7 146.2,338.3C146.9,338.0 147.7,333.3 148.3,332.5C149.0,331.7 149.4,333.8 150.0,333.7C150.6,333.5 151.4,331.9 152.0,331.7C152.6,331.5 153.2,332.5 153.7,332.5C154.2,332.5 154.5,330.6 155.0,331.7C155.5,332.8 156.1,338.2 156.7,339.2C157.2,340.1 157.6,337.5 158.3,337.5C159.0,337.5 160.0,338.9 160.8,339.2C161.7,339.4 162.5,338.8 163.3,338.8C164.2,338.9 165.0,339.4 165.8,339.5C166.7,339.6 167.6,339.6 168.3,339.2C169.1,338.8 169.6,337.3 170.3,337.2C171.0,337.0 171.9,338.6 172.5,338.3C173.1,338.1 173.6,336.8 174.2,335.8C174.8,334.9 175.6,332.6 176.2,332.5C176.7,332.4 177.1,334.1 177.5,335.0C177.9,335.9 178.2,338.3 178.7,338.0C179.1,337.7 179.8,333.7 180.3,333.3C180.9,333.0 181.4,335.1 182.0,335.8C182.6,336.5 183.0,337.5 183.7,337.5C184.3,337.5 185.1,335.7 185.8,335.8C186.5,336.0 187.1,338.1 187.8,338.3C188.5,338.6 189.3,337.3 190.0,337.5C190.7,337.7 191.4,339.9 192.0,339.5C192.6,339.1 193.1,336.4 193.7,335.0C194.2,333.6 194.7,331.7 195.3,330.8C196.0,330.0 196.9,330.8 197.5,330.0C198.1,329.2 198.6,327.5 199.2,325.8C199.7,324.2 200.4,321.1 200.8,320.0C201.3,318.9 201.6,318.6 202.0,319.2C202.4,319.7 202.8,321.1 203.3,323.3C203.8,325.6 204.5,330.4 205.0,332.5C205.5,334.6 205.9,336.5 206.3,335.8C206.7,335.1 207.1,331.2 207.5,328.3C207.9,325.4 208.4,321.0 208.8,318.3C209.2,315.7 209.7,313.6 210.0,312.5C210.3,311.4 210.5,311.2 210.8,311.7C211.2,312.1 211.6,313.1 212.0,315.0C212.4,316.9 212.8,320.3 213.3,323.3C213.8,326.4 214.5,330.8 215.0,333.3C215.5,335.8 215.8,337.6 216.3,338.3C216.9,339.0 217.7,337.9 218.3,337.5C219.0,337.1 219.6,336.0 220.3,335.8C221.0,335.7 222.1,336.5 222.5,336.7" fill="none" stroke="#1a1a1a" stroke-width="1.05" stroke-linejoin="round" stroke-linecap="round"/>
<rect x="45.3" y="311.7" width="33.6" height="17.6" rx="1" fill="#fff" fill-opacity="0.8" stroke="#d2d2d2" stroke-width="0.6"/>
<text transform="translate(62.10,318.74) scale(0.800,1)" font-size="5.90" text-anchor="middle" fill="#222" stroke="#222" stroke-width="0.2" font-weight="normal" >Vertex</text>
<line x1="47.3" y1="324.4" x2="57.4" y2="324.4" stroke="#1a1a1a" stroke-width="1"/>
<text transform="translate(61.09,326.50) scale(0.800,1)" font-size="5.90" text-anchor="start" fill="#222" stroke="#222" stroke-width="0.2" font-weight="normal" >25130</text>
<text x="47.0" y="398.9" font-family="'Liberation Serif','Times New Roman',serif" font-size="10" fill="#1a1a1a">(d) STC R.Volume : JATKAM - LCMV</text>
</g>
<g>
<rect x="268.0" y="243.0" width="216.8" height="57.5" fill="#000"/>
<clipPath id="cp17"><rect x="268.0" y="243.0" width="216.8" height="57.5"/></clipPath>
<g clip-path="url(#cp17)">
<g filter="url(#f1)">
<ellipse cx="298.2" cy="279.9" rx="19.0" ry="26.3" fill="#2c2c2c" stroke="#7c7c7c" stroke-width="2.00" />
<ellipse cx="298.2" cy="277.9" rx="14.4" ry="18.4" fill="#4a4a4a" />
<ellipse cx="298.2" cy="276.9" rx="8.0" ry="10.5" fill="#3a3a3a" />
<path d="M286.8,302.5 Q298.2,279.3 309.6,302.5 L309.6,304.5 L286.8,304.5 Z" fill="#080808"/>
<path d="M286.8,302.5 Q298.2,279.3 309.6,302.5" fill="none" stroke="#6a6a6a" stroke-width="1.20"/>
<path d="M283.0,286.4 L284.5,302.5 M313.4,286.4 L311.9,302.5" fill="none" stroke="#9c9c9c" stroke-width="2.00"/>
<ellipse cx="362.3" cy="276.0" rx="25.8" ry="26.6" fill="#242424" stroke="#6e6e6e" stroke-width="1.70" />
<ellipse cx="361.3" cy="272.0" rx="20.6" ry="18.6" fill="#3c3c3c" />
<ellipse cx="363.3" cy="275.0" rx="10.8" ry="6.9" fill="#262626" />
<path d="M343.7,289.8 Q362.3,283.4 383.5,289.8 L382.9,303.5 L344.2,303.5 Z" fill="#262626"/>
<ellipse cx="351.5" cy="290.6" rx="7.7" ry="5.9" fill="#545454" />
<ellipse cx="361.0" cy="292.5" rx="2.6" ry="9.0" fill="#4c4c4c" transform="rotate(-20.0 361.0 292.5)" />
<ellipse cx="431.4" cy="273.8" rx="22.0" ry="23.6" fill="#2a2a2a" stroke="#7e7e7e" stroke-width="2.00" />
<ellipse cx="431.4" cy="276.8" rx="17.6" ry="17.9" fill="#4e4e4e" />
<ellipse cx="420.4" cy="256.3" rx="4.6" ry="4.0" fill="#9a9a9a" />
<ellipse cx="442.4" cy="256.3" rx="4.6" ry="4.0" fill="#9a9a9a" />
<ellipse cx="420.4" cy="256.8" rx="2.0" ry="1.9" fill="#303030" />
<ellipse cx="442.4" cy="256.8" rx="2.0" ry="1.9" fill="#303030" />
<ellipse cx="431.4" cy="276.6" rx="4.8" ry="4.2" fill="#2c2c2c" />
<ellipse cx="422.2" cy="285.6" rx="6.6" ry="6.1" fill="#666" />
<ellipse cx="440.6" cy="285.6" rx="6.6" ry="6.1" fill="#666" />
<ellipse cx="419.3" cy="271.4" rx="4.4" ry="7.1" fill="#3a3a3a" />
<ellipse cx="443.5" cy="271.4" rx="4.4" ry="7.1" fill="#3a3a3a" />
</g>
<g filter="url(#f1)">
<ellipse cx="298.2" cy="272.3" rx="10.4" ry="8.8" fill="url(#sred)" />
<ellipse cx="298.6" cy="277.2" rx="5.2" ry="4.6" fill="url(#hot)" />
<ellipse cx="375.0" cy="272.5" rx="12.5" ry="10.0" fill="url(#sred)" />
<ellipse cx="368.0" cy="268.0" rx="7.0" ry="6.0" fill="url(#sred)" />
<ellipse cx="380.0" cy="269.0" rx="6.0" ry="6.0" fill="url(#sred)" />
<ellipse cx="374.6" cy="277.4" rx="6.8" ry="4.8" fill="url(#hot)" />
<ellipse cx="432.5" cy="268.4" rx="10.5" ry="7.4" fill="url(#sred)" />
<ellipse cx="430.6" cy="261.6" rx="3.2" ry="6.8" fill="url(#hot)" />
</g>
<line x1="273.5" y1="279.8" x2="323.0" y2="279.8" stroke="#e4e4e4" stroke-width="0.90"/>
<line x1="299.3" y1="245.4" x2="299.3" y2="298.6" stroke="#e4e4e4" stroke-width="0.90"/>
<line x1="334.2" y1="279.8" x2="392.0" y2="279.8" stroke="#e4e4e4" stroke-width="0.90"/>
<line x1="374.3" y1="245.4" x2="374.3" y2="298.6" stroke="#e4e4e4" stroke-width="0.90"/>
<line x1="404.7" y1="262.2" x2="458.0" y2="262.2" stroke="#e4e4e4" stroke-width="0.90"/>
<line x1="432.3" y1="245.4" x2="432.3" y2="298.6" stroke="#e4e4e4" stroke-width="0.90"/>
<text transform="translate(278.60,251.60) scale(0.950,1)" font-size="6.40" text-anchor="start" fill="#ececec" stroke="#ececec" stroke-width="0.05" font-weight="normal" >L</text>
<text transform="translate(313.40,251.60) scale(0.950,1)" font-size="6.40" text-anchor="start" fill="#ececec" stroke="#ececec" stroke-width="0.05" font-weight="normal" >R</text>
<text transform="translate(409.80,251.60) scale(0.950,1)" font-size="6.40" text-anchor="start" fill="#ececec" stroke="#ececec" stroke-width="0.05" font-weight="normal" >L</text>
<text transform="translate(448.40,251.60) scale(0.950,1)" font-size="6.40" text-anchor="start" fill="#ececec" stroke="#ececec" stroke-width="0.05" font-weight="normal" >R</text>
<rect x="273.0" y="294.0" width="18.4" height="6.5" fill="#000"/>
<text transform="translate(273.50,299.60) scale(0.950,1)" font-size="6.40" text-anchor="start" fill="#ececec" stroke="#ececec" stroke-width="0.05" font-weight="normal" >y=29</text>
<rect x="334.6" y="294.0" width="14.6" height="6.5" fill="#000"/>
<text transform="translate(335.10,299.60) scale(0.950,1)" font-size="6.40" text-anchor="start" fill="#ececec" stroke="#ececec" stroke-width="0.05" font-weight="normal" >x=9</text>
<rect x="404.3" y="294.0" width="21.4" height="6.5" fill="#000"/>
<text transform="translate(404.80,299.60) scale(0.950,1)" font-size="6.40" text-anchor="start" fill="#ececec" stroke="#ececec" stroke-width="0.05" font-weight="normal" >z=-35</text>
<rect x="479.0" y="245.6" width="4.1" height="52.4" fill="url(#cbE)"/>
<text transform="translate(475.60,249.16) scale(0.920,1)" font-size="6.00" text-anchor="end" fill="#dcdcdc" stroke="#dcdcdc" stroke-width="0.05" font-weight="normal" >4.6</text>
<text transform="translate(475.60,259.66) scale(0.920,1)" font-size="6.00" text-anchor="end" fill="#dcdcdc" stroke="#dcdcdc" stroke-width="0.05" font-weight="normal" >2.7</text>
<text transform="translate(475.60,267.86) scale(0.920,1)" font-size="6.00" text-anchor="end" fill="#dcdcdc" stroke="#dcdcdc" stroke-width="0.05" font-weight="normal" >1.1</text>
<text transform="translate(475.60,274.36) scale(0.920,1)" font-size="6.00" text-anchor="end" fill="#dcdcdc" stroke="#dcdcdc" stroke-width="0.05" font-weight="normal" >0</text>
<text transform="translate(475.60,281.86) scale(0.920,1)" font-size="6.00" text-anchor="end" fill="#dcdcdc" stroke="#dcdcdc" stroke-width="0.05" font-weight="normal" >-1.1</text>
<text transform="translate(475.60,290.36) scale(0.920,1)" font-size="6.00" text-anchor="end" fill="#dcdcdc" stroke="#dcdcdc" stroke-width="0.05" font-weight="normal" >-2.7</text>
<text transform="translate(475.60,300.86) scale(0.920,1)" font-size="6.00" text-anchor="end" fill="#dcdcdc" stroke="#dcdcdc" stroke-width="0.05" font-weight="normal" >-4.6</text>
</g>
<rect x="268.1" y="305.7" width="216.4" height="58.3" fill="#fff" stroke="#4c4c4c" stroke-width="0.8"/>
<line x1="364.5" y1="305.7" x2="364.5" y2="364.0" stroke="#2f5536" stroke-width="0.95"/>
<line x1="266.1" y1="309.28" x2="268.1" y2="309.28" stroke="#333" stroke-width="0.6"/>
<text transform="translate(263.90,311.33) scale(1.000,1)" font-size="5.70" text-anchor="end" fill="#222" stroke="#222" stroke-width="0.2" font-weight="normal" >4.60</text>
<line x1="266.1" y1="320.17" x2="268.1" y2="320.17" stroke="#333" stroke-width="0.6"/>
<text transform="translate(263.90,322.22) scale(1.000,1)" font-size="5.70" text-anchor="end" fill="#222" stroke="#222" stroke-width="0.2" font-weight="normal" >2.69</text>
<line x1="266.1" y1="329.12" x2="268.1" y2="329.12" stroke="#333" stroke-width="0.6"/>
<text transform="translate(263.90,331.17) scale(1.000,1)" font-size="5.70" text-anchor="end" fill="#222" stroke="#222" stroke-width="0.2" font-weight="normal" >1.12</text>
<line x1="266.1" y1="335.50" x2="268.1" y2="335.50" stroke="#333" stroke-width="0.6"/>
<text transform="translate(263.90,337.55) scale(1.000,1)" font-size="5.70" text-anchor="end" fill="#222" stroke="#222" stroke-width="0.2" font-weight="normal" >0.00</text>
<line x1="266.1" y1="341.88" x2="268.1" y2="341.88" stroke="#333" stroke-width="0.6"/>
<text transform="translate(263.90,343.94) scale(1.000,1)" font-size="5.70" text-anchor="end" fill="#222" stroke="#222" stroke-width="0.2" font-weight="normal" >−1.12</text>
<line x1="266.1" y1="350.83" x2="268.1" y2="350.83" stroke="#333" stroke-width="0.6"/>
<text transform="translate(263.90,352.89) scale(1.000,1)" font-size="5.70" text-anchor="end" fill="#222" stroke="#222" stroke-width="0.2" font-weight="normal" >−2.69</text>
<line x1="266.1" y1="361.72" x2="268.1" y2="361.72" stroke="#333" stroke-width="0.6"/>
<text transform="translate(263.90,363.77) scale(1.000,1)" font-size="5.70" text-anchor="end" fill="#222" stroke="#222" stroke-width="0.2" font-weight="normal" >−4.60</text>
<line x1="268.10" y1="364.0" x2="268.10" y2="366.0" stroke="#333" stroke-width="0.6"/>
<line x1="299.01" y1="364.0" x2="299.01" y2="366.0" stroke="#333" stroke-width="0.6"/>
<text transform="translate(299.01,373.20) scale(1.000,1)" font-size="5.70" text-anchor="middle" fill="#222" stroke="#222" stroke-width="0.2" font-weight="normal" >−0.1</text>
<line x1="329.93" y1="364.0" x2="329.93" y2="366.0" stroke="#333" stroke-width="0.6"/>
<text transform="translate(329.93,373.20) scale(1.000,1)" font-size="5.70" text-anchor="middle" fill="#222" stroke="#222" stroke-width="0.2" font-weight="normal" >0.0</text>
<line x1="360.84" y1="364.0" x2="360.84" y2="366.0" stroke="#333" stroke-width="0.6"/>
<text transform="translate(360.84,373.20) scale(1.000,1)" font-size="5.70" text-anchor="middle" fill="#222" stroke="#222" stroke-width="0.2" font-weight="normal" >0.1</text>
<line x1="391.76" y1="364.0" x2="391.76" y2="366.0" stroke="#333" stroke-width="0.6"/>
<text transform="translate(391.76,373.20) scale(1.000,1)" font-size="5.70" text-anchor="middle" fill="#222" stroke="#222" stroke-width="0.2" font-weight="normal" >0.2</text>
<line x1="422.67" y1="364.0" x2="422.67" y2="366.0" stroke="#333" stroke-width="0.6"/>
<text transform="translate(422.67,373.20) scale(1.000,1)" font-size="5.70" text-anchor="middle" fill="#222" stroke="#222" stroke-width="0.2" font-weight="normal" >0.3</text>
<line x1="453.59" y1="364.0" x2="453.59" y2="366.0" stroke="#333" stroke-width="0.6"/>
<text transform="translate(453.59,373.20) scale(1.000,1)" font-size="5.70" text-anchor="middle" fill="#222" stroke="#222" stroke-width="0.2" font-weight="normal" >0.4</text>
<line x1="484.50" y1="364.0" x2="484.50" y2="366.0" stroke="#333" stroke-width="0.6"/>
<text transform="translate(484.50,373.20) scale(1.000,1)" font-size="5.70" text-anchor="middle" fill="#222" stroke="#222" stroke-width="0.2" font-weight="normal" >0.5</text>
<text transform="translate(376.70,380.30) scale(1.000,1)" font-size="5.70" text-anchor="middle" fill="#222" stroke="#222" stroke-width="0.2" font-weight="normal" >Time (s)</text>
<text transform="translate(241.0,336.7) rotate(-90) scale(1,1.000)" font-size="5.42" text-anchor="middle" fill="#222" stroke="#222" stroke-width="0.2">Activation</text>
<path d="M268.3,332.5C268.7,332.5 269.6,333.1 270.3,332.5C271.0,331.9 271.9,330.1 272.5,329.2C273.1,328.2 273.5,327.1 274.2,326.7C274.9,326.2 275.8,326.2 276.7,326.7C277.5,327.1 278.3,328.4 279.2,329.2C280.0,329.9 280.8,330.8 281.7,331.3C282.5,331.9 283.4,332.8 284.2,332.5C284.9,332.2 285.6,330.2 286.3,329.7C287.0,329.1 287.7,328.8 288.3,329.2C288.9,329.5 289.5,330.8 290.0,331.7C290.5,332.6 290.8,334.4 291.3,334.5C291.9,334.6 292.7,332.7 293.3,332.5C294.0,332.3 294.6,333.5 295.3,333.3C296.0,333.2 296.7,332.0 297.5,331.7C298.3,331.3 299.2,331.4 300.0,331.2C300.8,330.9 301.7,330.6 302.5,330.3C303.3,330.1 304.2,329.7 305.0,329.7C305.8,329.7 306.6,330.3 307.5,330.3C308.4,330.4 309.5,329.6 310.3,330.0C311.2,330.4 311.8,331.8 312.5,332.5C313.2,333.2 313.8,334.5 314.5,334.5C315.2,334.5 316.0,332.8 316.7,332.5C317.3,332.2 317.7,332.2 318.3,332.5C318.9,332.8 319.6,334.7 320.3,334.5C321.0,334.3 321.8,331.8 322.5,331.3C323.2,330.9 324.0,332.0 324.7,331.7C325.3,331.3 325.8,330.3 326.3,329.2C326.9,328.1 327.4,325.8 328.0,325.0C328.6,324.2 329.4,324.2 330.0,324.7C330.6,325.1 331.1,326.2 331.7,327.5C332.3,328.8 333.0,332.2 333.7,332.5C334.4,332.8 335.2,329.8 335.8,329.2C336.5,328.5 336.9,328.4 337.5,328.7C338.1,328.9 339.0,330.3 339.7,330.8C340.4,331.4 340.9,332.0 341.7,332.0C342.4,332.0 343.3,331.2 344.2,330.8C345.0,330.4 345.8,329.9 346.7,329.7C347.5,329.4 348.4,329.5 349.2,329.2C349.9,328.8 350.6,328.0 351.3,327.5C352.0,327.0 352.7,326.0 353.3,326.2C354.0,326.3 354.6,327.6 355.3,328.3C356.0,329.1 356.9,330.7 357.5,330.8C358.1,331.0 358.6,330.7 359.2,329.2C359.7,327.6 360.3,324.0 360.8,321.7C361.4,319.3 361.9,316.8 362.5,315.0C363.1,313.2 363.8,311.7 364.2,310.8C364.6,310.0 364.6,309.3 365.0,310.0C365.4,310.7 365.8,313.2 366.3,315.0C366.8,316.8 367.4,319.2 368.0,320.8C368.6,322.4 369.1,324.4 369.7,324.7C370.3,324.9 371.0,323.1 371.7,322.5C372.3,321.9 373.0,321.0 373.7,320.8C374.4,320.7 375.1,321.2 375.8,321.7C376.6,322.1 377.5,323.2 378.3,323.7C379.2,324.1 380.0,324.2 380.8,324.2C381.7,324.1 382.5,323.2 383.3,323.3C384.2,323.5 385.0,324.2 385.8,325.0C386.7,325.8 387.5,327.4 388.3,328.3C389.2,329.3 389.9,330.1 390.8,330.8C391.8,331.5 393.1,332.0 394.2,332.5C395.3,333.0 396.4,333.8 397.5,333.8C398.6,333.9 399.9,333.6 400.8,333.0C401.8,332.4 402.6,330.7 403.3,330.0C404.1,329.3 404.6,328.7 405.3,328.8C406.0,329.0 406.8,329.9 407.5,330.8C408.2,331.8 408.8,334.3 409.7,334.5C410.5,334.7 411.5,332.5 412.5,332.2C413.5,331.8 414.7,332.4 415.8,332.5C416.9,332.6 418.2,332.9 419.2,333.0C420.1,333.1 420.8,333.1 421.7,333.3C422.5,333.6 423.4,334.8 424.2,334.5C424.9,334.2 425.6,332.4 426.3,331.7C427.0,330.9 427.6,330.1 428.3,330.0C429.1,329.9 430.1,330.6 430.8,330.8C431.5,331.1 431.8,331.8 432.5,331.3C433.2,330.9 434.2,329.2 435.0,328.3C435.8,327.4 436.7,326.5 437.5,325.8C438.3,325.2 439.2,324.9 440.0,324.5C440.8,324.1 441.7,323.6 442.5,323.7C443.3,323.8 444.0,324.3 444.7,325.0C445.4,325.7 446.0,327.2 446.7,328.0C447.3,328.8 447.8,329.9 448.7,330.0C449.5,330.1 450.6,329.1 451.7,328.8C452.7,328.6 453.9,328.4 455.0,328.3C456.1,328.2 457.3,328.3 458.3,328.3C459.4,328.4 460.4,328.9 461.3,328.7C462.3,328.4 463.3,326.8 464.2,326.7C465.0,326.6 465.6,327.4 466.3,328.0C467.1,328.6 467.9,330.2 468.7,330.5C469.4,330.8 470.1,330.0 470.8,329.7C471.6,329.3 472.3,328.3 473.0,328.3C473.7,328.3 474.2,329.0 475.0,329.7C475.8,330.4 476.7,331.8 477.5,332.5C478.3,333.2 479.2,333.5 480.0,333.8C480.8,334.2 481.7,334.3 482.5,334.5C483.3,334.7 484.3,334.9 484.7,335.0" fill="none" stroke="#1a1a1a" stroke-width="1.05" stroke-linejoin="round" stroke-linecap="round"/>
<rect x="271.0" y="308.6" width="40.0" height="17.4" rx="1" fill="#fff" fill-opacity="0.8" stroke="#d2d2d2" stroke-width="0.6"/>
<text transform="translate(291.00,315.56) scale(1.000,1)" font-size="5.70" text-anchor="middle" fill="#222" stroke="#222" stroke-width="0.2" font-weight="normal" >Vertex</text>
<line x1="273.4" y1="321.1" x2="285.4" y2="321.1" stroke="#1a1a1a" stroke-width="1"/>
<text transform="translate(289.80,323.18) scale(1.000,1)" font-size="5.70" text-anchor="start" fill="#222" stroke="#222" stroke-width="0.2" font-weight="normal" >11271</text>
<text x="274.0" y="397.2" font-family="'Liberation Serif','Times New Roman',serif" font-size="10" fill="#1a1a1a">(e). STC R.Volume HRADAW - dSPM</text>
</g>
<g>
<rect x="530.5" y="244.3" width="238.0" height="57.7" fill="#000"/>
<clipPath id="cp18"><rect x="530.5" y="244.3" width="238.0" height="57.7"/></clipPath>
<g clip-path="url(#cp18)">
<g filter="url(#f1)">
<ellipse cx="563.0" cy="281.5" rx="20.8" ry="26.1" fill="#2c2c2c" stroke="#7c7c7c" stroke-width="2.00" />
<ellipse cx="563.0" cy="279.5" rx="15.8" ry="18.3" fill="#4a4a4a" />
<ellipse cx="563.0" cy="278.5" rx="8.7" ry="10.4" fill="#3a3a3a" />
<path d="M550.5,304.0 Q563.0,281.0 575.5,304.0 L575.5,306.0 L550.5,306.0 Z" fill="#080808"/>
<path d="M550.5,304.0 Q563.0,281.0 575.5,304.0" fill="none" stroke="#6a6a6a" stroke-width="1.20"/>
<path d="M546.4,288.0 L548.0,304.0 M579.6,288.0 L578.0,304.0" fill="none" stroke="#9c9c9c" stroke-width="2.00"/>
<ellipse cx="634.7" cy="279.0" rx="28.4" ry="28.0" fill="#242424" stroke="#6e6e6e" stroke-width="1.70" />
<ellipse cx="633.7" cy="275.0" rx="22.7" ry="19.6" fill="#3c3c3c" />
<ellipse cx="635.7" cy="278.0" rx="11.9" ry="7.3" fill="#262626" />
<path d="M614.3,293.6 Q634.7,286.8 658.0,293.6 L657.4,305.0 L614.8,305.0 Z" fill="#262626"/>
<ellipse cx="622.8" cy="294.4" rx="8.5" ry="6.2" fill="#545454" />
<ellipse cx="633.3" cy="296.4" rx="2.8" ry="9.5" fill="#4c4c4c" transform="rotate(-20.0 633.3 296.4)" />
<ellipse cx="709.0" cy="274.8" rx="24.0" ry="23.2" fill="#2a2a2a" stroke="#7e7e7e" stroke-width="2.00" />
<ellipse cx="709.0" cy="277.8" rx="19.2" ry="17.6" fill="#4e4e4e" />
<ellipse cx="697.0" cy="257.6" rx="5.0" ry="3.9" fill="#9a9a9a" />
<ellipse cx="721.0" cy="257.6" rx="5.0" ry="3.9" fill="#9a9a9a" />
<ellipse cx="697.0" cy="258.1" rx="2.2" ry="1.9" fill="#303030" />
<ellipse cx="721.0" cy="258.1" rx="2.2" ry="1.9" fill="#303030" />
<ellipse cx="709.0" cy="277.6" rx="5.3" ry="4.2" fill="#2c2c2c" />
<ellipse cx="698.9" cy="286.4" rx="7.2" ry="6.0" fill="#666" />
<ellipse cx="719.1" cy="286.4" rx="7.2" ry="6.0" fill="#666" />
<ellipse cx="695.8" cy="272.5" rx="4.8" ry="7.0" fill="#3a3a3a" />
<ellipse cx="722.2" cy="272.5" rx="4.8" ry="7.0" fill="#3a3a3a" />
</g>
<g filter="url(#f1)">
<ellipse cx="562.0" cy="273.6" rx="11.4" ry="9.2" fill="url(#sred)" />
<ellipse cx="562.8" cy="277.4" rx="5.4" ry="4.8" fill="url(#org)" opacity="0.95" />
<ellipse cx="648.0" cy="274.2" rx="13.5" ry="9.8" fill="url(#sred)" />
<ellipse cx="653.0" cy="271.0" rx="6.5" ry="6.5" fill="url(#sred)" />
<ellipse cx="645.6" cy="276.3" rx="6.4" ry="5.2" fill="url(#org)" />
<ellipse cx="709.5" cy="269.8" rx="11.0" ry="8.0" fill="url(#sred)" />
<ellipse cx="708.7" cy="263.4" rx="4.2" ry="6.6" fill="url(#org)" />
</g>
<line x1="536.2" y1="280.6" x2="590.5" y2="280.6" stroke="#e4e4e4" stroke-width="0.90"/>
<line x1="562.8" y1="247.2" x2="562.8" y2="299.8" stroke="#e4e4e4" stroke-width="0.90"/>
<line x1="604.0" y1="280.6" x2="666.3" y2="280.6" stroke="#e4e4e4" stroke-width="0.90"/>
<line x1="646.7" y1="247.2" x2="646.7" y2="299.8" stroke="#e4e4e4" stroke-width="0.90"/>
<line x1="681.2" y1="264.4" x2="738.4" y2="264.4" stroke="#e4e4e4" stroke-width="0.90"/>
<line x1="708.7" y1="247.2" x2="708.7" y2="299.8" stroke="#e4e4e4" stroke-width="0.90"/>
<text transform="translate(541.80,253.80) scale(1.050,1)" font-size="6.60" text-anchor="start" fill="#ececec" stroke="#ececec" stroke-width="0.05" font-weight="normal" >L</text>
<text transform="translate(580.20,253.80) scale(1.050,1)" font-size="6.60" text-anchor="start" fill="#ececec" stroke="#ececec" stroke-width="0.05" font-weight="normal" >R</text>
<text transform="translate(686.20,253.80) scale(1.050,1)" font-size="6.60" text-anchor="start" fill="#ececec" stroke="#ececec" stroke-width="0.05" font-weight="normal" >L</text>
<text transform="translate(727.40,253.80) scale(1.050,1)" font-size="6.60" text-anchor="start" fill="#ececec" stroke="#ececec" stroke-width="0.05" font-weight="normal" >R</text>
<rect x="536.4" y="295.6" width="20.0" height="6.4" fill="#000"/>
<text transform="translate(536.90,301.40) scale(1.050,1)" font-size="6.60" text-anchor="start" fill="#ececec" stroke="#ececec" stroke-width="0.05" font-weight="normal" >y=29</text>
<rect x="604.2" y="295.6" width="15.6" height="6.4" fill="#000"/>
<text transform="translate(604.70,301.40) scale(1.050,1)" font-size="6.60" text-anchor="start" fill="#ececec" stroke="#ececec" stroke-width="0.05" font-weight="normal" >x=0</text>
<rect x="680.6" y="295.6" width="23.4" height="6.4" fill="#000"/>
<text transform="translate(681.10,301.40) scale(1.050,1)" font-size="6.60" text-anchor="start" fill="#ececec" stroke="#ececec" stroke-width="0.05" font-weight="normal" >z=-30</text>
<rect x="762.1" y="248.0" width="4.3" height="51.7" fill="url(#cbE)"/>
<text transform="translate(757.60,250.46) scale(0.950,1)" font-size="6.00" text-anchor="end" fill="#dcdcdc" stroke="#dcdcdc" stroke-width="0.05" font-weight="normal" >4.6</text>
<text transform="translate(757.60,260.66) scale(0.950,1)" font-size="6.00" text-anchor="end" fill="#dcdcdc" stroke="#dcdcdc" stroke-width="0.05" font-weight="normal" >2.7</text>
<text transform="translate(757.60,269.66) scale(0.950,1)" font-size="6.00" text-anchor="end" fill="#dcdcdc" stroke="#dcdcdc" stroke-width="0.05" font-weight="normal" >1.1</text>
<text transform="translate(757.60,275.96) scale(0.950,1)" font-size="6.00" text-anchor="end" fill="#dcdcdc" stroke="#dcdcdc" stroke-width="0.05" font-weight="normal" >0</text>
<text transform="translate(757.60,283.16) scale(0.950,1)" font-size="6.00" text-anchor="end" fill="#dcdcdc" stroke="#dcdcdc" stroke-width="0.05" font-weight="normal" >-1.1</text>
<text transform="translate(757.60,291.36) scale(0.950,1)" font-size="6.00" text-anchor="end" fill="#dcdcdc" stroke="#dcdcdc" stroke-width="0.05" font-weight="normal" >-2.7</text>
<text transform="translate(757.60,301.86) scale(0.950,1)" font-size="6.00" text-anchor="end" fill="#dcdcdc" stroke="#dcdcdc" stroke-width="0.05" font-weight="normal" >-4.6</text>
</g>
<rect x="530.2" y="309.3" width="237.9" height="57.6" fill="#fff" stroke="#4c4c4c" stroke-width="0.8"/>
<line x1="636.0" y1="309.3" x2="636.0" y2="366.9" stroke="#529858" stroke-width="1.40"/>
<line x1="528.2" y1="312.37" x2="530.2" y2="312.37" stroke="#333" stroke-width="0.6"/>
<text transform="translate(526.00,314.42) scale(1.100,1)" font-size="5.70" text-anchor="end" fill="#222" stroke="#222" stroke-width="0.2" font-weight="normal" >4.60</text>
<line x1="528.2" y1="323.22" x2="530.2" y2="323.22" stroke="#333" stroke-width="0.6"/>
<text transform="translate(526.00,325.27) scale(1.100,1)" font-size="5.70" text-anchor="end" fill="#222" stroke="#222" stroke-width="0.2" font-weight="normal" >2.69</text>
<line x1="528.2" y1="332.14" x2="530.2" y2="332.14" stroke="#333" stroke-width="0.6"/>
<text transform="translate(526.00,334.19) scale(1.100,1)" font-size="5.70" text-anchor="end" fill="#222" stroke="#222" stroke-width="0.2" font-weight="normal" >1.12</text>
<line x1="528.2" y1="338.50" x2="530.2" y2="338.50" stroke="#333" stroke-width="0.6"/>
<text transform="translate(526.00,340.55) scale(1.100,1)" font-size="5.70" text-anchor="end" fill="#222" stroke="#222" stroke-width="0.2" font-weight="normal" >0.00</text>
<line x1="528.2" y1="344.86" x2="530.2" y2="344.86" stroke="#333" stroke-width="0.6"/>
<text transform="translate(526.00,346.91) scale(1.100,1)" font-size="5.70" text-anchor="end" fill="#222" stroke="#222" stroke-width="0.2" font-weight="normal" >−1.12</text>
<line x1="528.2" y1="353.78" x2="530.2" y2="353.78" stroke="#333" stroke-width="0.6"/>
<text transform="translate(526.00,355.83) scale(1.100,1)" font-size="5.70" text-anchor="end" fill="#222" stroke="#222" stroke-width="0.2" font-weight="normal" >−2.69</text>
<line x1="528.2" y1="364.63" x2="530.2" y2="364.63" stroke="#333" stroke-width="0.6"/>
<text transform="translate(526.00,366.68) scale(1.100,1)" font-size="5.70" text-anchor="end" fill="#222" stroke="#222" stroke-width="0.2" font-weight="normal" >−4.60</text>
<line x1="530.20" y1="366.9" x2="530.20" y2="368.9" stroke="#333" stroke-width="0.6"/>
<line x1="564.19" y1="366.9" x2="564.19" y2="368.9" stroke="#333" stroke-width="0.6"/>
<text transform="translate(564.19,375.80) scale(1.100,1)" font-size="5.70" text-anchor="middle" fill="#222" stroke="#222" stroke-width="0.2" font-weight="normal" >−0.1</text>
<line x1="598.17" y1="366.9" x2="598.17" y2="368.9" stroke="#333" stroke-width="0.6"/>
<text transform="translate(598.17,375.80) scale(1.100,1)" font-size="5.70" text-anchor="middle" fill="#222" stroke="#222" stroke-width="0.2" font-weight="normal" >0.0</text>
<line x1="632.16" y1="366.9" x2="632.16" y2="368.9" stroke="#333" stroke-width="0.6"/>
<text transform="translate(632.16,375.80) scale(1.100,1)" font-size="5.70" text-anchor="middle" fill="#222" stroke="#222" stroke-width="0.2" font-weight="normal" >0.1</text>
<line x1="666.14" y1="366.9" x2="666.14" y2="368.9" stroke="#333" stroke-width="0.6"/>
<text transform="translate(666.14,375.80) scale(1.100,1)" font-size="5.70" text-anchor="middle" fill="#222" stroke="#222" stroke-width="0.2" font-weight="normal" >0.2</text>
<line x1="700.13" y1="366.9" x2="700.13" y2="368.9" stroke="#333" stroke-width="0.6"/>
<text transform="translate(700.13,375.80) scale(1.100,1)" font-size="5.70" text-anchor="middle" fill="#222" stroke="#222" stroke-width="0.2" font-weight="normal" >0.3</text>
<line x1="734.11" y1="366.9" x2="734.11" y2="368.9" stroke="#333" stroke-width="0.6"/>
<text transform="translate(734.11,375.80) scale(1.100,1)" font-size="5.70" text-anchor="middle" fill="#222" stroke="#222" stroke-width="0.2" font-weight="normal" >0.4</text>
<line x1="768.10" y1="366.9" x2="768.10" y2="368.9" stroke="#333" stroke-width="0.6"/>
<text transform="translate(768.10,375.80) scale(1.100,1)" font-size="5.70" text-anchor="middle" fill="#222" stroke="#222" stroke-width="0.2" font-weight="normal" >0.5</text>
<text transform="translate(649.30,382.70) scale(1.100,1)" font-size="5.70" text-anchor="middle" fill="#222" stroke="#222" stroke-width="0.2" font-weight="normal" >Time (s)</text>
<text transform="translate(501.5,339.0) rotate(-90) scale(1,1.100)" font-size="5.42" text-anchor="middle" fill="#222" stroke="#222" stroke-width="0.2">Activation</text>
<path d="M530.5,335.5C530.9,335.6 532.2,336.8 533.0,336.3C533.8,335.9 534.3,334.1 535.0,333.0C535.7,331.9 536.4,330.2 537.2,329.7C537.9,329.1 538.6,329.4 539.3,329.7C540.0,329.9 540.6,330.7 541.3,331.3C542.1,331.9 543.0,332.8 543.8,333.3C544.7,333.9 545.6,334.4 546.3,334.7C547.1,335.0 547.6,335.4 548.3,335.2C549.0,334.9 549.8,333.8 550.5,333.3C551.2,332.9 552.0,332.4 552.7,332.7C553.3,332.9 553.8,334.0 554.3,334.7C554.9,335.4 555.4,336.8 556.0,336.8C556.6,336.9 557.2,335.4 558.0,335.2C558.8,334.9 559.7,335.6 560.5,335.5C561.3,335.4 562.2,334.9 563.0,334.7C563.8,334.4 564.7,334.3 565.5,333.8C566.3,333.3 567.2,332.1 568.0,331.7C568.8,331.2 569.7,331.2 570.5,331.3C571.3,331.5 572.2,332.6 573.0,332.7C573.8,332.7 574.8,331.8 575.5,331.7C576.2,331.6 576.8,331.7 577.5,332.2C578.2,332.7 579.0,333.8 579.7,334.7C580.4,335.5 581.0,337.0 581.7,337.2C582.4,337.3 583.2,335.8 583.8,335.5C584.5,335.2 584.9,334.8 585.5,335.2C586.1,335.5 587.0,337.6 587.7,337.5C588.3,337.4 588.8,335.3 589.3,334.7C589.9,334.0 590.4,333.4 591.0,333.5C591.6,333.6 592.1,335.4 592.7,335.0C593.3,334.6 594.0,332.4 594.7,331.3C595.3,330.2 596.1,328.8 596.7,328.3C597.3,327.8 597.8,327.8 598.3,328.3C598.9,328.8 599.4,330.2 600.0,331.3C600.6,332.5 601.4,334.8 602.2,335.2C602.9,335.5 603.6,333.8 604.3,333.3C605.0,332.9 605.7,332.6 606.3,332.7C607.0,332.8 607.6,333.7 608.3,333.8C609.0,333.9 609.7,333.6 610.5,333.3C611.3,333.1 612.2,332.5 613.0,332.2C613.8,331.8 614.7,331.4 615.5,331.3C616.3,331.2 617.2,331.8 618.0,331.7C618.8,331.5 619.7,330.9 620.5,330.5C621.3,330.1 622.0,329.4 622.7,329.3C623.3,329.3 623.7,329.6 624.3,330.2C624.9,330.7 625.7,332.1 626.3,332.7C626.9,333.2 627.5,333.3 628.0,333.5C628.5,333.7 628.7,334.3 629.2,333.8C629.6,333.3 630.3,332.2 630.8,330.5C631.4,328.8 631.9,325.9 632.5,323.8C633.1,321.8 633.6,319.2 634.2,318.0C634.8,316.8 635.5,316.1 636.2,316.3C636.8,316.6 637.4,318.3 638.0,319.7C638.6,321.1 639.1,323.3 639.7,324.7C640.3,326.0 640.9,327.4 641.7,327.7C642.4,327.9 643.3,326.6 644.2,326.0C645.0,325.4 645.8,324.3 646.7,324.3C647.5,324.3 648.3,325.4 649.2,326.0C650.0,326.6 650.7,327.3 651.7,327.7C652.6,328.0 654.0,327.8 655.0,328.0C656.0,328.2 656.7,328.3 657.5,328.8C658.3,329.3 659.2,330.2 660.0,331.0C660.8,331.8 661.7,333.2 662.5,333.8C663.3,334.4 664.2,334.5 665.0,334.7C665.8,334.8 666.7,334.4 667.5,334.7C668.3,334.9 669.2,335.5 670.0,336.0C670.8,336.5 671.6,337.4 672.5,337.5C673.4,337.6 674.5,337.4 675.3,336.8C676.2,336.2 676.8,334.6 677.5,333.8C678.2,333.1 679.0,332.4 679.7,332.2C680.4,332.0 681.0,332.1 681.7,332.7C682.3,333.2 683.0,334.7 683.7,335.5C684.3,336.3 684.8,337.5 685.5,337.5C686.2,337.5 687.1,335.9 688.0,335.5C688.9,335.1 689.8,335.2 690.8,335.2C691.9,335.2 693.1,335.4 694.2,335.5C695.3,335.6 696.4,335.7 697.5,336.0C698.6,336.3 699.9,337.6 700.8,337.5C701.8,337.4 702.5,336.2 703.3,335.5C704.2,334.8 705.0,333.8 705.8,333.5C706.7,333.2 707.5,333.8 708.3,333.8C709.2,333.9 710.0,334.2 710.8,333.8C711.7,333.5 712.5,332.4 713.3,331.7C714.2,331.0 715.0,330.1 715.8,329.7C716.7,329.2 717.6,329.3 718.3,329.2C719.0,329.0 719.6,328.9 720.0,328.8C720.4,328.7 720.3,328.4 720.8,328.5C721.4,328.6 722.5,329.1 723.3,329.7C724.2,330.3 725.1,331.5 725.8,332.2C726.6,332.8 727.2,333.3 728.0,333.5C728.8,333.7 729.8,333.5 730.8,333.3C731.9,333.2 733.1,332.9 734.2,332.7C735.3,332.5 736.4,332.3 737.5,332.2C738.6,332.0 739.9,331.8 740.8,331.7C741.8,331.5 742.6,331.6 743.3,331.3C744.1,331.1 744.6,330.1 745.3,330.2C746.0,330.2 746.8,331.1 747.5,331.7C748.2,332.2 749.0,333.1 749.7,333.5C750.3,333.9 750.7,334.4 751.3,334.2C752.0,333.9 752.9,332.8 753.7,332.2C754.4,331.6 755.1,330.6 755.8,330.5C756.6,330.4 757.2,331.0 758.0,331.7C758.8,332.3 759.6,333.6 760.3,334.3C761.1,335.1 761.7,335.6 762.5,336.0C763.3,336.4 764.1,336.8 765.0,336.8C765.9,336.8 767.4,336.1 767.8,336.0" fill="none" stroke="#1a1a1a" stroke-width="1.05" stroke-linejoin="round" stroke-linecap="round"/>
<rect x="533.1" y="312.1" width="44.0" height="17.4" rx="1" fill="#fff" fill-opacity="0.8" stroke="#d2d2d2" stroke-width="0.6"/>
<text transform="translate(555.10,319.06) scale(1.100,1)" font-size="5.70" text-anchor="middle" fill="#222" stroke="#222" stroke-width="0.2" font-weight="normal" >Vertex</text>
<line x1="535.7" y1="324.6" x2="548.9" y2="324.6" stroke="#1a1a1a" stroke-width="1"/>
<text transform="translate(553.78,326.68) scale(1.100,1)" font-size="5.70" text-anchor="start" fill="#222" stroke="#222" stroke-width="0.2" font-weight="normal" >12556</text>
<text x="554.4" y="396.1" font-family="'Liberation Serif','Times New Roman',serif" font-size="10" fill="#1a1a1a">(f). STC R.Volume JANPRZZ -dSPM</text>
</g>
<rect x="0" y="0" width="4" height="420" fill="#000"/>
<rect x="0" y="0" width="800" height="1" fill="#000"/>
<rect x="795.2" y="0" width="1" height="420" fill="#888"/>
<rect x="796" y="0" width="4" height="420" fill="#000"/>
<rect x="4" y="417.3" width="792" height="0.9" fill="#a8aec4"/>
<rect x="4" y="418.0" width="792" height="2" fill="#14174a"/>
<rect x="0" y="418.0" width="16" height="2" fill="#05050c"/>
<rect x="700" y="419" width="100" height="1" fill="#000"/>
</svg></body></html>
